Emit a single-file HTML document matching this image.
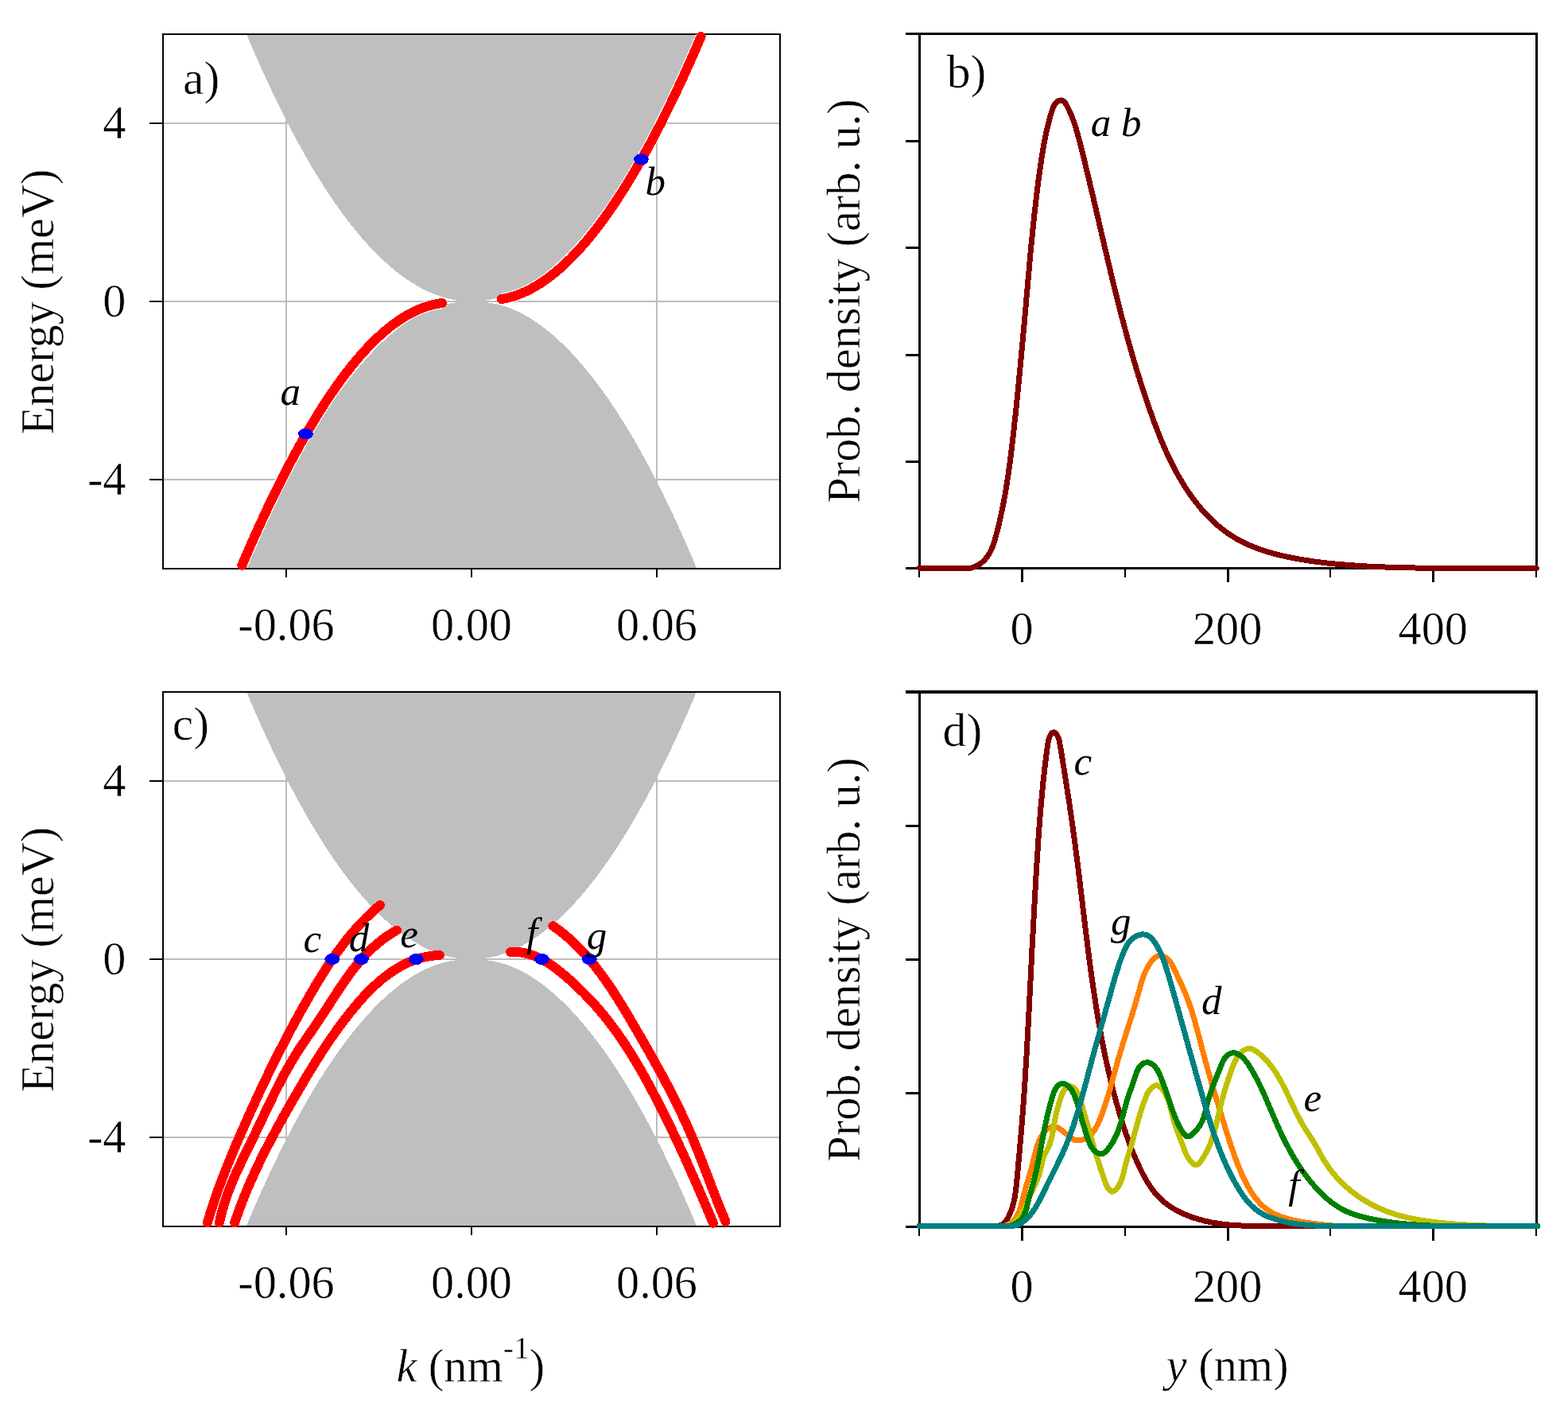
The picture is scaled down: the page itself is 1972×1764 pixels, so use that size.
<!DOCTYPE html>
<html lang="en"><head><meta charset="utf-8"><title>Edge-state dispersion and probability density</title>
<style>
html,body{margin:0;padding:0;background:#fff;}
svg{display:block;}
text{font-family:'Liberation Serif', 'DejaVu Serif', serif;fill:#000;}
.t{font-size:58.3px;}
.tag{font-size:59.6px;}
.it{font-size:51px;font-style:italic;}
.xl{font-size:58.3px;}
.t,.tag,.xl,.thin{stroke:#fff;stroke-width:0.5px;stroke-linejoin:round;}
</style></head>
<body>
<svg xmlns="http://www.w3.org/2000/svg" width="1972" height="1764" viewBox="0 0 1972 1764" shape-rendering="crispEdges">
<rect width="1972" height="1764" fill="#fff"/>
<clipPath id="cpa"><rect x="205" y="43" width="776" height="672"/></clipPath>
<g clip-path="url(#cpa)">
<rect x="205" y="602" width="776" height="2" fill="#bcbcbc"/>
<rect x="205" y="378" width="776" height="2" fill="#bcbcbc"/>
<rect x="205" y="154" width="776" height="2" fill="#bcbcbc"/>
<rect x="359" y="43" width="2" height="672" fill="#bcbcbc"/>
<rect x="825" y="43" width="2" height="672" fill="#bcbcbc"/>
<path d="M282.3,-26 L284.3,-20.9 L286.2,-15.9 L288.2,-10.9 L290.1,-6 L292,-1.1 L294,3.8 L295.9,8.7 L297.9,13.5 L299.8,18.3 L301.8,23.1 L303.7,27.8 L305.6,32.5 L307.6,37.1 L309.5,41.8 L311.5,46.4 L313.4,51 L315.3,55.5 L317.3,60 L319.2,64.5 L321.2,68.9 L323.1,73.3 L325.1,77.7 L327,82.1 L328.9,86.4 L330.9,90.7 L332.8,94.9 L334.8,99.2 L336.7,103.4 L338.6,107.5 L340.6,111.6 L342.5,115.7 L344.5,119.8 L346.4,123.8 L348.4,127.8 L350.3,131.8 L352.2,135.8 L354.2,139.7 L356.1,143.5 L358.1,147.4 L360,151.2 L361.9,155 L363.9,158.7 L365.8,162.4 L367.8,166.1 L369.7,169.8 L371.7,173.4 L373.6,177 L375.5,180.6 L377.5,184.1 L379.4,187.6 L381.4,191 L383.3,194.5 L385.2,197.9 L387.2,201.2 L389.1,204.6 L391.1,207.9 L393,211.2 L395,214.4 L396.9,217.6 L398.8,220.8 L400.8,223.9 L402.7,227.1 L404.7,230.1 L406.6,233.2 L408.5,236.2 L410.5,239.2 L412.4,242.2 L414.4,245.1 L416.3,248 L418.3,250.9 L420.2,253.7 L422.1,256.5 L424.1,259.3 L426,262 L428,264.7 L429.9,267.4 L431.8,270 L433.8,272.6 L435.7,275.2 L437.7,277.8 L439.6,280.3 L441.6,282.8 L443.5,285.2 L445.4,287.6 L447.4,290 L449.3,292.4 L451.3,294.7 L453.2,297 L455.1,299.3 L457.1,301.5 L459,303.7 L461,305.8 L462.9,308 L464.9,310.1 L466.8,312.2 L468.7,314.2 L470.7,316.2 L472.6,318.2 L474.6,320.1 L476.5,322 L478.4,323.9 L480.4,325.8 L482.3,327.6 L484.3,329.4 L486.2,331.1 L488.2,332.9 L490.1,334.6 L492,336.2 L494,337.9 L495.9,339.4 L497.9,341 L499.8,342.6 L501.7,344.1 L503.7,345.5 L505.6,347 L507.6,348.4 L509.5,349.7 L511.5,351.1 L513.4,352.4 L515.3,353.7 L517.3,354.9 L519.2,356.2 L521.2,357.3 L523.1,358.5 L525,359.6 L527,360.7 L528.9,361.8 L530.9,362.8 L532.8,363.8 L534.8,364.8 L536.7,365.7 L538.6,366.6 L540.6,367.5 L542.5,368.3 L544.5,369.1 L546.4,369.9 L548.3,370.6 L550.3,371.3 L552.2,372 L554.2,372.7 L556.1,373.3 L558.1,373.9 L560,374.4 L561.9,375 L563.9,375.4 L565.8,375.9 L567.8,376.3 L569.7,376.7 L571.6,377.1 L573.6,377.4 L575.5,377.7 L577.5,378 L579.4,378.2 L581.4,378.4 L583.3,378.6 L585.2,378.7 L587.2,378.9 L589.1,378.9 L591.1,379 L593,379 L594.9,379 L596.9,378.9 L598.8,378.9 L600.8,378.7 L602.7,378.6 L604.6,378.4 L606.6,378.2 L608.5,378 L610.5,377.7 L612.4,377.4 L614.4,377.1 L616.3,376.7 L618.2,376.3 L620.2,375.9 L622.1,375.4 L624.1,375 L626,374.4 L627.9,373.9 L629.9,373.3 L631.8,372.7 L633.8,372 L635.7,371.3 L637.7,370.6 L639.6,369.9 L641.5,369.1 L643.5,368.3 L645.4,367.5 L647.4,366.6 L649.3,365.7 L651.2,364.8 L653.2,363.8 L655.1,362.8 L657.1,361.8 L659,360.7 L661,359.6 L662.9,358.5 L664.8,357.3 L666.8,356.2 L668.7,354.9 L670.7,353.7 L672.6,352.4 L674.5,351.1 L676.5,349.7 L678.4,348.4 L680.4,347 L682.3,345.5 L684.3,344.1 L686.2,342.6 L688.1,341 L690.1,339.5 L692,337.9 L694,336.2 L695.9,334.6 L697.8,332.9 L699.8,331.1 L701.7,329.4 L703.7,327.6 L705.6,325.8 L707.6,323.9 L709.5,322 L711.4,320.1 L713.4,318.2 L715.3,316.2 L717.3,314.2 L719.2,312.2 L721.1,310.1 L723.1,308 L725,305.8 L727,303.7 L728.9,301.5 L730.9,299.3 L732.8,297 L734.7,294.7 L736.7,292.4 L738.6,290 L740.6,287.6 L742.5,285.2 L744.4,282.8 L746.4,280.3 L748.3,277.8 L750.3,275.2 L752.2,272.6 L754.2,270 L756.1,267.4 L758,264.7 L760,262 L761.9,259.3 L763.9,256.5 L765.8,253.7 L767.7,250.9 L769.7,248 L771.6,245.1 L773.6,242.2 L775.5,239.2 L777.5,236.2 L779.4,233.2 L781.3,230.1 L783.3,227.1 L785.2,223.9 L787.2,220.8 L789.1,217.6 L791,214.4 L793,211.2 L794.9,207.9 L796.9,204.6 L798.8,201.2 L800.8,197.9 L802.7,194.5 L804.6,191 L806.6,187.6 L808.5,184.1 L810.5,180.6 L812.4,177 L814.3,173.4 L816.3,169.8 L818.2,166.1 L820.2,162.4 L822.1,158.7 L824.1,155 L826,151.2 L827.9,147.4 L829.9,143.5 L831.8,139.7 L833.8,135.8 L835.7,131.8 L837.6,127.8 L839.6,123.8 L841.5,119.8 L843.5,115.7 L845.4,111.6 L847.4,107.5 L849.3,103.4 L851.2,99.2 L853.2,94.9 L855.1,90.7 L857.1,86.4 L859,82.1 L860.9,77.7 L862.9,73.3 L864.8,68.9 L866.8,64.5 L868.7,60 L870.7,55.5 L872.6,51 L874.5,46.4 L876.5,41.8 L878.4,37.1 L880.4,32.5 L882.3,27.8 L884.2,23.1 L886.2,18.3 L888.1,13.5 L890.1,8.7 L892,3.8 L894,-1.1 L895.9,-6 L897.8,-10.9 L899.8,-15.9 L901.7,-20.9 L903.7,-26 L903.7,-7 L282.3,-7 Z" fill="#bfbfbf"/>
<path d="M282.3,783 L284.3,778 L286.2,772.9 L288.2,768 L290.1,763 L292,758.1 L294,753.2 L295.9,748.3 L297.9,743.5 L299.8,738.7 L301.8,733.9 L303.7,729.2 L305.6,724.5 L307.6,719.8 L309.5,715.1 L311.5,710.5 L313.4,705.9 L315.3,701.4 L317.3,696.9 L319.2,692.4 L321.2,687.9 L323.1,683.5 L325.1,679.1 L327,674.8 L328.9,670.4 L330.9,666.1 L332.8,661.9 L334.8,657.7 L336.7,653.5 L338.6,649.3 L340.6,645.2 L342.5,641 L344.5,637 L346.4,632.9 L348.4,628.9 L350.3,624.9 L352.2,621 L354.2,617.1 L356.1,613.2 L358.1,609.4 L360,605.5 L361.9,601.7 L363.9,598 L365.8,594.3 L367.8,590.6 L369.7,586.9 L371.7,583.3 L373.6,579.7 L375.5,576.1 L377.5,572.6 L379.4,569.1 L381.4,565.6 L383.3,562.2 L385.2,558.8 L387.2,555.4 L389.1,552 L391.1,548.7 L393,545.5 L395,542.2 L396.9,539 L398.8,535.8 L400.8,532.6 L402.7,529.5 L404.7,526.4 L406.6,523.4 L408.5,520.3 L410.5,517.4 L412.4,514.4 L414.4,511.5 L416.3,508.6 L418.3,505.7 L420.2,502.9 L422.1,500 L424.1,497.3 L426,494.5 L428,491.8 L429.9,489.1 L431.8,486.5 L433.8,483.9 L435.7,481.3 L437.7,478.7 L439.6,476.2 L441.6,473.7 L443.5,471.3 L445.4,468.9 L447.4,466.5 L449.3,464.1 L451.3,461.8 L453.2,459.5 L455.1,457.2 L457.1,455 L459,452.8 L461,450.6 L462.9,448.5 L464.9,446.4 L466.8,444.3 L468.7,442.2 L470.7,440.2 L472.6,438.2 L474.6,436.3 L476.5,434.4 L478.4,432.5 L480.4,430.6 L482.3,428.8 L484.3,427 L486.2,425.3 L488.2,423.5 L490.1,421.8 L492,420.2 L494,418.5 L495.9,416.9 L497.9,415.4 L499.8,413.8 L501.7,412.3 L503.7,410.9 L505.6,409.4 L507.6,408 L509.5,406.6 L511.5,405.3 L513.4,404 L515.3,402.7 L517.3,401.5 L519.2,400.2 L521.2,399.1 L523.1,397.9 L525,396.8 L527,395.7 L528.9,394.7 L530.9,393.7 L532.8,392.7 L534.8,391.8 L536.7,390.9 L538.6,390 L540.6,389.1 L542.5,388.3 L544.5,387.6 L546.4,386.8 L548.3,386.2 L550.3,385.5 L552.2,384.9 L554.2,384.3 L556.1,383.7 L558.1,383.2 L560,382.7 L561.9,382.3 L563.9,381.8 L565.8,381.5 L567.8,381.1 L569.7,380.8 L571.6,380.5 L573.6,380.2 L575.5,380 L577.5,379.8 L579.4,379.6 L581.4,379.4 L583.3,379.3 L585.2,379.2 L587.2,379.1 L589.1,379 L591.1,379 L593,379 L594.9,379 L596.9,379 L598.8,379.1 L600.8,379.2 L602.7,379.3 L604.6,379.4 L606.6,379.6 L608.5,379.8 L610.5,380 L612.4,380.2 L614.4,380.5 L616.3,380.8 L618.2,381.1 L620.2,381.5 L622.1,381.8 L624.1,382.3 L626,382.7 L627.9,383.2 L629.9,383.7 L631.8,384.3 L633.8,384.9 L635.7,385.5 L637.7,386.2 L639.6,386.8 L641.5,387.6 L643.5,388.3 L645.4,389.1 L647.4,390 L649.3,390.9 L651.2,391.8 L653.2,392.7 L655.1,393.7 L657.1,394.7 L659,395.7 L661,396.8 L662.9,397.9 L664.8,399.1 L666.8,400.2 L668.7,401.5 L670.7,402.7 L672.6,404 L674.5,405.3 L676.5,406.6 L678.4,408 L680.4,409.4 L682.3,410.9 L684.3,412.3 L686.2,413.8 L688.1,415.4 L690.1,416.9 L692,418.5 L694,420.2 L695.9,421.8 L697.8,423.5 L699.8,425.3 L701.7,427 L703.7,428.8 L705.6,430.6 L707.6,432.5 L709.5,434.4 L711.4,436.3 L713.4,438.2 L715.3,440.2 L717.3,442.2 L719.2,444.3 L721.1,446.4 L723.1,448.5 L725,450.6 L727,452.8 L728.9,455 L730.9,457.2 L732.8,459.5 L734.7,461.8 L736.7,464.1 L738.6,466.5 L740.6,468.9 L742.5,471.3 L744.4,473.7 L746.4,476.2 L748.3,478.7 L750.3,481.3 L752.2,483.9 L754.2,486.5 L756.1,489.1 L758,491.8 L760,494.5 L761.9,497.3 L763.9,500 L765.8,502.9 L767.7,505.7 L769.7,508.6 L771.6,511.5 L773.6,514.4 L775.5,517.4 L777.5,520.3 L779.4,523.4 L781.3,526.4 L783.3,529.5 L785.2,532.6 L787.2,535.8 L789.1,539 L791,542.2 L793,545.5 L794.9,548.7 L796.9,552 L798.8,555.4 L800.8,558.8 L802.7,562.2 L804.6,565.6 L806.6,569.1 L808.5,572.6 L810.5,576.1 L812.4,579.7 L814.3,583.3 L816.3,586.9 L818.2,590.6 L820.2,594.3 L822.1,598 L824.1,601.7 L826,605.5 L827.9,609.4 L829.9,613.2 L831.8,617.1 L833.8,621 L835.7,624.9 L837.6,628.9 L839.6,632.9 L841.5,637 L843.5,641 L845.4,645.2 L847.4,649.3 L849.3,653.5 L851.2,657.7 L853.2,661.9 L855.1,666.1 L857.1,670.4 L859,674.8 L860.9,679.1 L862.9,683.5 L864.8,687.9 L866.8,692.4 L868.7,696.9 L870.7,701.4 L872.6,705.9 L874.5,710.5 L876.5,715.1 L878.4,719.8 L880.4,724.5 L882.3,729.2 L884.2,733.9 L886.2,738.7 L888.1,743.5 L890.1,748.3 L892,753.2 L894,758.1 L895.9,763 L897.8,768 L899.8,772.9 L901.7,778 L903.7,783 L903.7,765 L282.3,765 Z" fill="#bfbfbf"/>
</g>
<rect x="205" y="43" width="776" height="672" fill="none" stroke="#000" stroke-width="2"/>
<rect x="188" y="154" width="17" height="2" fill="#000"/>
<text x="158.5" y="173.8" text-anchor="end" class="t">4</text>
<rect x="188" y="378" width="17" height="2" fill="#000"/>
<text x="158.5" y="397.8" text-anchor="end" class="t">0</text>
<rect x="188" y="602" width="17" height="2" fill="#000"/>
<text x="158.5" y="621.8" text-anchor="end" class="t">-4</text>
<rect x="359" y="715" width="2" height="10.5" fill="#000"/>
<text x="360" y="804.6" text-anchor="middle" class="t">-0.06</text>
<rect x="592" y="715" width="2" height="10.5" fill="#000"/>
<text x="593" y="804.6" text-anchor="middle" class="t">0.00</text>
<rect x="825" y="715" width="2" height="10.5" fill="#000"/>
<text x="826" y="804.6" text-anchor="middle" class="t">0.06</text>
<g clip-path="url(#cpa)">
<path d="M304.3,710.8 L307.5,703.4 L310.7,696 L313.9,688.7 L317,681.5 L320.2,674.4 L323.4,667.3 L326.6,660.3 L329.8,653.4 L333,646.6 L336.1,639.8 L339.3,633.1 L342.5,626.5 L345.7,619.9 L348.9,613.5 L352.1,607.1 L355.3,600.8 L358.4,594.5 L361.6,588.4 L364.8,582.3 L368,576.3 L371.2,570.4 L374.4,564.5 L377.6,558.8 L380.7,553.1 L383.9,547.5 L387.1,542 L390.3,536.6 L393.5,531.2 L396.7,526 L399.8,520.8 L403,515.7 L406.2,510.7 L409.4,505.8 L412.6,501 L415.8,496.2 L419,491.6 L422.1,487 L425.3,482.5 L428.5,478.1 L431.7,473.8 L434.9,469.6 L438.1,465.5 L441.2,461.4 L444.4,457.5 L447.6,453.6 L450.8,449.9 L454,446.2 L457.2,442.7 L460.4,439.2 L463.5,435.8 L466.7,432.5 L469.9,429.3 L473.1,426.2 L476.3,423.2 L479.5,420.3 L482.6,417.5 L485.8,414.8 L489,412.2 L492.2,409.7 L495.4,407.3 L498.6,405 L501.8,402.8 L504.9,400.7 L508.1,398.7 L511.3,396.8 L514.5,395 L517.7,393.3 L520.9,391.7 L524.1,390.2 L527.2,388.8 L530.4,387.5 L533.6,386.3 L536.8,385.2 L540,384.3 L543.2,383.4 L546.3,382.7 L549.5,382 L552.7,381.5 L555.9,381.1" fill="none" stroke="#fff" stroke-width="14.4" stroke-linecap="butt" stroke-linejoin="round"/>
<path d="M630.6,376 L633.8,375.5 L637,374.8 L640.1,374.1 L643.3,373.2 L646.5,372.3 L649.7,371.2 L652.8,370 L656,368.8 L659.2,367.4 L662.4,365.9 L665.5,364.4 L668.7,362.7 L671.9,360.9 L675.1,359.1 L678.3,357.1 L681.4,355.1 L684.6,352.9 L687.8,350.6 L691,348.3 L694.1,345.9 L697.3,343.3 L700.5,340.7 L703.7,337.9 L706.9,335.1 L710,332.2 L713.2,329.2 L716.4,326.1 L719.6,322.9 L722.7,319.6 L725.9,316.2 L729.1,312.7 L732.3,309.2 L735.4,305.5 L738.6,301.8 L741.8,297.9 L745,294 L748.2,290 L751.3,285.9 L754.5,281.7 L757.7,277.4 L760.9,273 L764,268.6 L767.2,264 L770.4,259.4 L773.6,254.7 L776.8,249.9 L779.9,245 L783.1,240 L786.3,235 L789.5,229.8 L792.6,224.6 L795.8,219.3 L799,213.9 L802.2,208.4 L805.3,202.9 L808.5,197.2 L811.7,191.5 L814.9,185.7 L818.1,179.9 L821.2,173.9 L824.4,167.9 L827.6,161.7 L830.8,155.6 L833.9,149.3 L837.1,142.9 L840.3,136.5 L843.5,130 L846.7,123.4 L849.8,116.7 L853,110 L856.2,103.2 L859.4,96.3 L862.5,89.4 L865.7,82.3 L868.9,75.2 L872.1,68 L875.2,60.8 L878.4,53.4 L881.6,46" fill="none" stroke="#fff" stroke-width="14.4" stroke-linecap="butt" stroke-linejoin="round"/>
</g>
<path d="M304.3,710.8 L307.5,703.4 L310.7,696 L313.9,688.7 L317,681.5 L320.2,674.4 L323.4,667.3 L326.6,660.3 L329.8,653.4 L333,646.6 L336.1,639.8 L339.3,633.1 L342.5,626.5 L345.7,619.9 L348.9,613.5 L352.1,607.1 L355.3,600.8 L358.4,594.5 L361.6,588.4 L364.8,582.3 L368,576.3 L371.2,570.4 L374.4,564.5 L377.6,558.8 L380.7,553.1 L383.9,547.5 L387.1,542 L390.3,536.6 L393.5,531.2 L396.7,526 L399.8,520.8 L403,515.7 L406.2,510.7 L409.4,505.8 L412.6,501 L415.8,496.2 L419,491.6 L422.1,487 L425.3,482.5 L428.5,478.1 L431.7,473.8 L434.9,469.6 L438.1,465.5 L441.2,461.4 L444.4,457.5 L447.6,453.6 L450.8,449.9 L454,446.2 L457.2,442.7 L460.4,439.2 L463.5,435.8 L466.7,432.5 L469.9,429.3 L473.1,426.2 L476.3,423.2 L479.5,420.3 L482.6,417.5 L485.8,414.8 L489,412.2 L492.2,409.7 L495.4,407.3 L498.6,405 L501.8,402.8 L504.9,400.7 L508.1,398.7 L511.3,396.8 L514.5,395 L517.7,393.3 L520.9,391.7 L524.1,390.2 L527.2,388.8 L530.4,387.5 L533.6,386.3 L536.8,385.2 L540,384.3 L543.2,383.4 L546.3,382.7 L549.5,382 L552.7,381.5 L555.9,381.1" fill="none" stroke="#ff0000" stroke-width="12" stroke-linecap="round" stroke-linejoin="round"/>
<path d="M630.6,376 L633.8,375.5 L637,374.8 L640.1,374.1 L643.3,373.2 L646.5,372.3 L649.7,371.2 L652.8,370 L656,368.8 L659.2,367.4 L662.4,365.9 L665.5,364.4 L668.7,362.7 L671.9,360.9 L675.1,359.1 L678.3,357.1 L681.4,355.1 L684.6,352.9 L687.8,350.6 L691,348.3 L694.1,345.9 L697.3,343.3 L700.5,340.7 L703.7,337.9 L706.9,335.1 L710,332.2 L713.2,329.2 L716.4,326.1 L719.6,322.9 L722.7,319.6 L725.9,316.2 L729.1,312.7 L732.3,309.2 L735.4,305.5 L738.6,301.8 L741.8,297.9 L745,294 L748.2,290 L751.3,285.9 L754.5,281.7 L757.7,277.4 L760.9,273 L764,268.6 L767.2,264 L770.4,259.4 L773.6,254.7 L776.8,249.9 L779.9,245 L783.1,240 L786.3,235 L789.5,229.8 L792.6,224.6 L795.8,219.3 L799,213.9 L802.2,208.4 L805.3,202.9 L808.5,197.2 L811.7,191.5 L814.9,185.7 L818.1,179.9 L821.2,173.9 L824.4,167.9 L827.6,161.7 L830.8,155.6 L833.9,149.3 L837.1,142.9 L840.3,136.5 L843.5,130 L846.7,123.4 L849.8,116.7 L853,110 L856.2,103.2 L859.4,96.3 L862.5,89.4 L865.7,82.3 L868.9,75.2 L872.1,68 L875.2,60.8 L878.4,53.4 L881.6,46" fill="none" stroke="#ff0000" stroke-width="12" stroke-linecap="round" stroke-linejoin="round"/>
<ellipse cx="384.4" cy="545.5" rx="9.4" ry="7" fill="#0000ff"/>
<ellipse cx="806.4" cy="200.3" rx="9.4" ry="7" fill="#0000ff"/>
<text transform="translate(67,379.5) rotate(-90)" text-anchor="middle" class="t">Energy (meV)</text>
<text x="230" y="117.5" class="tag">a)</text>
<text x="352.4" y="509.2" class="it">a</text>
<text x="811.6" y="244.7" class="it">b</text>
<clipPath id="cpc"><rect x="205" y="870" width="776" height="672"/></clipPath>
<g clip-path="url(#cpc)">
<rect x="205" y="1429" width="776" height="2" fill="#bcbcbc"/>
<rect x="205" y="1205" width="776" height="2" fill="#bcbcbc"/>
<rect x="205" y="981" width="776" height="2" fill="#bcbcbc"/>
<rect x="359" y="870" width="2" height="672" fill="#bcbcbc"/>
<rect x="825" y="870" width="2" height="672" fill="#bcbcbc"/>
<path d="M282.3,801 L284.3,806.1 L286.2,811.1 L288.2,816.1 L290.1,821 L292,825.9 L294,830.8 L295.9,835.7 L297.9,840.5 L299.8,845.3 L301.8,850 L303.7,854.8 L305.6,859.5 L307.6,864.1 L309.5,868.8 L311.5,873.4 L313.4,878 L315.3,882.5 L317.3,887 L319.2,891.5 L321.2,895.9 L323.1,900.3 L325.1,904.7 L327,909.1 L328.9,913.4 L330.9,917.7 L332.8,921.9 L334.8,926.2 L336.7,930.4 L338.6,934.5 L340.6,938.6 L342.5,942.7 L344.5,946.8 L346.4,950.8 L348.4,954.8 L350.3,958.8 L352.2,962.8 L354.2,966.7 L356.1,970.5 L358.1,974.4 L360,978.2 L361.9,982 L363.9,985.7 L365.8,989.4 L367.8,993.1 L369.7,996.8 L371.7,1000.4 L373.6,1004 L375.5,1007.6 L377.5,1011.1 L379.4,1014.6 L381.4,1018 L383.3,1021.5 L385.2,1024.9 L387.2,1028.2 L389.1,1031.6 L391.1,1034.9 L393,1038.2 L395,1041.4 L396.9,1044.6 L398.8,1047.8 L400.8,1050.9 L402.7,1054.1 L404.7,1057.1 L406.6,1060.2 L408.5,1063.2 L410.5,1066.2 L412.4,1069.2 L414.4,1072.1 L416.3,1075 L418.3,1077.9 L420.2,1080.7 L422.1,1083.5 L424.1,1086.3 L426,1089 L428,1091.7 L429.9,1094.4 L431.8,1097 L433.8,1099.6 L435.7,1102.2 L437.7,1104.8 L439.6,1107.3 L441.6,1109.8 L443.5,1112.2 L445.4,1114.6 L447.4,1117 L449.3,1119.4 L451.3,1121.7 L453.2,1124 L455.1,1126.3 L457.1,1128.5 L459,1130.7 L461,1132.8 L462.9,1135 L464.9,1137.1 L466.8,1139.2 L468.7,1141.2 L470.7,1143.2 L472.6,1145.2 L474.6,1147.1 L476.5,1149 L478.4,1150.9 L480.4,1152.8 L482.3,1154.6 L484.3,1156.4 L486.2,1158.1 L488.2,1159.9 L490.1,1161.6 L492,1163.2 L494,1164.9 L495.9,1166.5 L497.9,1168 L499.8,1169.6 L501.7,1171.1 L503.7,1172.5 L505.6,1174 L507.6,1175.4 L509.5,1176.7 L511.5,1178.1 L513.4,1179.4 L515.3,1180.7 L517.3,1181.9 L519.2,1183.2 L521.2,1184.3 L523.1,1185.5 L525,1186.6 L527,1187.7 L528.9,1188.8 L530.9,1189.8 L532.8,1190.8 L534.8,1191.8 L536.7,1192.7 L538.6,1193.6 L540.6,1194.5 L542.5,1195.3 L544.5,1196.1 L546.4,1196.9 L548.3,1197.6 L550.3,1198.3 L552.2,1199 L554.2,1199.7 L556.1,1200.3 L558.1,1200.9 L560,1201.4 L561.9,1202 L563.9,1202.4 L565.8,1202.9 L567.8,1203.3 L569.7,1203.7 L571.6,1204.1 L573.6,1204.4 L575.5,1204.7 L577.5,1205 L579.4,1205.2 L581.4,1205.4 L583.3,1205.6 L585.2,1205.7 L587.2,1205.9 L589.1,1205.9 L591.1,1206 L593,1206 L594.9,1206 L596.9,1205.9 L598.8,1205.9 L600.8,1205.7 L602.7,1205.6 L604.6,1205.4 L606.6,1205.2 L608.5,1205 L610.5,1204.7 L612.4,1204.4 L614.4,1204.1 L616.3,1203.7 L618.2,1203.3 L620.2,1202.9 L622.1,1202.4 L624.1,1202 L626,1201.4 L627.9,1200.9 L629.9,1200.3 L631.8,1199.7 L633.8,1199 L635.7,1198.3 L637.7,1197.6 L639.6,1196.9 L641.5,1196.1 L643.5,1195.3 L645.4,1194.5 L647.4,1193.6 L649.3,1192.7 L651.2,1191.8 L653.2,1190.8 L655.1,1189.8 L657.1,1188.8 L659,1187.7 L661,1186.6 L662.9,1185.5 L664.8,1184.3 L666.8,1183.2 L668.7,1181.9 L670.7,1180.7 L672.6,1179.4 L674.5,1178.1 L676.5,1176.7 L678.4,1175.4 L680.4,1174 L682.3,1172.5 L684.3,1171.1 L686.2,1169.6 L688.1,1168 L690.1,1166.5 L692,1164.9 L694,1163.2 L695.9,1161.6 L697.8,1159.9 L699.8,1158.1 L701.7,1156.4 L703.7,1154.6 L705.6,1152.8 L707.6,1150.9 L709.5,1149 L711.4,1147.1 L713.4,1145.2 L715.3,1143.2 L717.3,1141.2 L719.2,1139.2 L721.1,1137.1 L723.1,1135 L725,1132.8 L727,1130.7 L728.9,1128.5 L730.9,1126.3 L732.8,1124 L734.7,1121.7 L736.7,1119.4 L738.6,1117 L740.6,1114.6 L742.5,1112.2 L744.4,1109.8 L746.4,1107.3 L748.3,1104.8 L750.3,1102.2 L752.2,1099.6 L754.2,1097 L756.1,1094.4 L758,1091.7 L760,1089 L761.9,1086.3 L763.9,1083.5 L765.8,1080.7 L767.7,1077.9 L769.7,1075 L771.6,1072.1 L773.6,1069.2 L775.5,1066.2 L777.5,1063.2 L779.4,1060.2 L781.3,1057.1 L783.3,1054.1 L785.2,1050.9 L787.2,1047.8 L789.1,1044.6 L791,1041.4 L793,1038.2 L794.9,1034.9 L796.9,1031.6 L798.8,1028.2 L800.8,1024.9 L802.7,1021.5 L804.6,1018 L806.6,1014.6 L808.5,1011.1 L810.5,1007.6 L812.4,1004 L814.3,1000.4 L816.3,996.8 L818.2,993.1 L820.2,989.4 L822.1,985.7 L824.1,982 L826,978.2 L827.9,974.4 L829.9,970.5 L831.8,966.7 L833.8,962.8 L835.7,958.8 L837.6,954.8 L839.6,950.8 L841.5,946.8 L843.5,942.7 L845.4,938.6 L847.4,934.5 L849.3,930.4 L851.2,926.2 L853.2,921.9 L855.1,917.7 L857.1,913.4 L859,909.1 L860.9,904.7 L862.9,900.3 L864.8,895.9 L866.8,891.5 L868.7,887 L870.7,882.5 L872.6,878 L874.5,873.4 L876.5,868.8 L878.4,864.1 L880.4,859.5 L882.3,854.8 L884.2,850 L886.2,845.3 L888.1,840.5 L890.1,835.7 L892,830.8 L894,825.9 L895.9,821 L897.8,816.1 L899.8,811.1 L901.7,806.1 L903.7,801 L903.7,820 L282.3,820 Z" fill="#bfbfbf"/>
<path d="M282.3,1610 L284.3,1605 L286.2,1599.9 L288.2,1595 L290.1,1590 L292,1585.1 L294,1580.2 L295.9,1575.3 L297.9,1570.5 L299.8,1565.7 L301.8,1560.9 L303.7,1556.2 L305.6,1551.5 L307.6,1546.8 L309.5,1542.1 L311.5,1537.5 L313.4,1532.9 L315.3,1528.4 L317.3,1523.9 L319.2,1519.4 L321.2,1514.9 L323.1,1510.5 L325.1,1506.1 L327,1501.8 L328.9,1497.4 L330.9,1493.1 L332.8,1488.9 L334.8,1484.7 L336.7,1480.5 L338.6,1476.3 L340.6,1472.2 L342.5,1468 L344.5,1464 L346.4,1459.9 L348.4,1455.9 L350.3,1451.9 L352.2,1448 L354.2,1444.1 L356.1,1440.2 L358.1,1436.4 L360,1432.5 L361.9,1428.7 L363.9,1425 L365.8,1421.3 L367.8,1417.6 L369.7,1413.9 L371.7,1410.3 L373.6,1406.7 L375.5,1403.1 L377.5,1399.6 L379.4,1396.1 L381.4,1392.6 L383.3,1389.2 L385.2,1385.8 L387.2,1382.4 L389.1,1379 L391.1,1375.7 L393,1372.5 L395,1369.2 L396.9,1366 L398.8,1362.8 L400.8,1359.6 L402.7,1356.5 L404.7,1353.4 L406.6,1350.4 L408.5,1347.3 L410.5,1344.4 L412.4,1341.4 L414.4,1338.5 L416.3,1335.6 L418.3,1332.7 L420.2,1329.9 L422.1,1327 L424.1,1324.3 L426,1321.5 L428,1318.8 L429.9,1316.1 L431.8,1313.5 L433.8,1310.9 L435.7,1308.3 L437.7,1305.7 L439.6,1303.2 L441.6,1300.7 L443.5,1298.3 L445.4,1295.9 L447.4,1293.5 L449.3,1291.1 L451.3,1288.8 L453.2,1286.5 L455.1,1284.2 L457.1,1282 L459,1279.8 L461,1277.6 L462.9,1275.5 L464.9,1273.4 L466.8,1271.3 L468.7,1269.2 L470.7,1267.2 L472.6,1265.2 L474.6,1263.3 L476.5,1261.4 L478.4,1259.5 L480.4,1257.6 L482.3,1255.8 L484.3,1254 L486.2,1252.3 L488.2,1250.5 L490.1,1248.8 L492,1247.2 L494,1245.5 L495.9,1243.9 L497.9,1242.4 L499.8,1240.8 L501.7,1239.3 L503.7,1237.9 L505.6,1236.4 L507.6,1235 L509.5,1233.6 L511.5,1232.3 L513.4,1231 L515.3,1229.7 L517.3,1228.5 L519.2,1227.2 L521.2,1226.1 L523.1,1224.9 L525,1223.8 L527,1222.7 L528.9,1221.7 L530.9,1220.7 L532.8,1219.7 L534.8,1218.8 L536.7,1217.9 L538.6,1217 L540.6,1216.1 L542.5,1215.3 L544.5,1214.6 L546.4,1213.8 L548.3,1213.2 L550.3,1212.5 L552.2,1211.9 L554.2,1211.3 L556.1,1210.7 L558.1,1210.2 L560,1209.7 L561.9,1209.3 L563.9,1208.8 L565.8,1208.5 L567.8,1208.1 L569.7,1207.8 L571.6,1207.5 L573.6,1207.2 L575.5,1207 L577.5,1206.8 L579.4,1206.6 L581.4,1206.4 L583.3,1206.3 L585.2,1206.2 L587.2,1206.1 L589.1,1206 L591.1,1206 L593,1206 L594.9,1206 L596.9,1206 L598.8,1206.1 L600.8,1206.2 L602.7,1206.3 L604.6,1206.4 L606.6,1206.6 L608.5,1206.8 L610.5,1207 L612.4,1207.2 L614.4,1207.5 L616.3,1207.8 L618.2,1208.1 L620.2,1208.5 L622.1,1208.8 L624.1,1209.3 L626,1209.7 L627.9,1210.2 L629.9,1210.7 L631.8,1211.3 L633.8,1211.9 L635.7,1212.5 L637.7,1213.2 L639.6,1213.8 L641.5,1214.6 L643.5,1215.3 L645.4,1216.1 L647.4,1217 L649.3,1217.9 L651.2,1218.8 L653.2,1219.7 L655.1,1220.7 L657.1,1221.7 L659,1222.7 L661,1223.8 L662.9,1224.9 L664.8,1226.1 L666.8,1227.2 L668.7,1228.5 L670.7,1229.7 L672.6,1231 L674.5,1232.3 L676.5,1233.6 L678.4,1235 L680.4,1236.4 L682.3,1237.9 L684.3,1239.3 L686.2,1240.8 L688.1,1242.4 L690.1,1243.9 L692,1245.5 L694,1247.2 L695.9,1248.8 L697.8,1250.5 L699.8,1252.3 L701.7,1254 L703.7,1255.8 L705.6,1257.6 L707.6,1259.5 L709.5,1261.4 L711.4,1263.3 L713.4,1265.2 L715.3,1267.2 L717.3,1269.2 L719.2,1271.3 L721.1,1273.4 L723.1,1275.5 L725,1277.6 L727,1279.8 L728.9,1282 L730.9,1284.2 L732.8,1286.5 L734.7,1288.8 L736.7,1291.1 L738.6,1293.5 L740.6,1295.9 L742.5,1298.3 L744.4,1300.7 L746.4,1303.2 L748.3,1305.7 L750.3,1308.3 L752.2,1310.9 L754.2,1313.5 L756.1,1316.1 L758,1318.8 L760,1321.5 L761.9,1324.3 L763.9,1327 L765.8,1329.9 L767.7,1332.7 L769.7,1335.6 L771.6,1338.5 L773.6,1341.4 L775.5,1344.4 L777.5,1347.3 L779.4,1350.4 L781.3,1353.4 L783.3,1356.5 L785.2,1359.6 L787.2,1362.8 L789.1,1366 L791,1369.2 L793,1372.5 L794.9,1375.7 L796.9,1379 L798.8,1382.4 L800.8,1385.8 L802.7,1389.2 L804.6,1392.6 L806.6,1396.1 L808.5,1399.6 L810.5,1403.1 L812.4,1406.7 L814.3,1410.3 L816.3,1413.9 L818.2,1417.6 L820.2,1421.3 L822.1,1425 L824.1,1428.7 L826,1432.5 L827.9,1436.4 L829.9,1440.2 L831.8,1444.1 L833.8,1448 L835.7,1451.9 L837.6,1455.9 L839.6,1459.9 L841.5,1464 L843.5,1468 L845.4,1472.2 L847.4,1476.3 L849.3,1480.5 L851.2,1484.7 L853.2,1488.9 L855.1,1493.1 L857.1,1497.4 L859,1501.8 L860.9,1506.1 L862.9,1510.5 L864.8,1514.9 L866.8,1519.4 L868.7,1523.9 L870.7,1528.4 L872.6,1532.9 L874.5,1537.5 L876.5,1542.1 L878.4,1546.8 L880.4,1551.5 L882.3,1556.2 L884.2,1560.9 L886.2,1565.7 L888.1,1570.5 L890.1,1575.3 L892,1580.2 L894,1585.1 L895.9,1590 L897.8,1595 L899.8,1599.9 L901.7,1605 L903.7,1610 L903.7,1592 L282.3,1592 Z" fill="#bfbfbf"/>
</g>
<rect x="205" y="870" width="776" height="672" fill="none" stroke="#000" stroke-width="2"/>
<rect x="188" y="981" width="17" height="2" fill="#000"/>
<text x="158.5" y="1000.8" text-anchor="end" class="t">4</text>
<rect x="188" y="1205" width="17" height="2" fill="#000"/>
<text x="158.5" y="1224.8" text-anchor="end" class="t">0</text>
<rect x="188" y="1429" width="17" height="2" fill="#000"/>
<text x="158.5" y="1448.8" text-anchor="end" class="t">-4</text>
<rect x="359" y="1542" width="2" height="10.5" fill="#000"/>
<text x="360" y="1632.2" text-anchor="middle" class="t">-0.06</text>
<rect x="592" y="1542" width="2" height="10.5" fill="#000"/>
<text x="593" y="1632.2" text-anchor="middle" class="t">0.00</text>
<rect x="825" y="1542" width="2" height="10.5" fill="#000"/>
<text x="826" y="1632.2" text-anchor="middle" class="t">0.06</text>
<path d="M477.9,1138.1 L473.4,1141.9 L469,1145.8 L464.8,1149.8 L460.6,1153.9 L456.5,1158 L452.5,1162.2 L448.6,1166.5 L444.8,1170.9 L441,1175.3 L437.4,1179.7 L433.8,1184.3 L430.3,1188.8 L426.8,1193.5 L423.4,1198.2 L420.1,1202.9 L416.8,1207.6 L413.6,1212.4 L410.4,1217.3 L407.3,1222.2 L404.2,1227.1 L401.2,1232 L398.2,1237 L395.2,1242 L392.3,1247 L389.4,1252 L386.5,1257 L383.6,1262.1 L380.7,1267.1 L377.9,1272.2 L375.1,1277.3 L372.3,1282.4 L369.5,1287.5 L366.8,1292.6 L364,1297.7 L361.3,1302.9 L358.6,1308 L356,1313.2 L353.3,1318.3 L350.7,1323.5 L348,1328.7 L345.4,1333.9 L342.9,1339.1 L340.3,1344.3 L337.7,1349.5 L335.2,1354.8 L332.7,1360 L330.2,1365.3 L327.7,1370.5 L325.2,1375.8 L322.8,1381.1 L320.4,1386.3 L317.9,1391.6 L315.5,1396.9 L313.2,1402.2 L310.8,1407.5 L308.4,1412.8 L306.1,1418.1 L303.7,1423.4 L301.4,1428.8 L299.1,1434.1 L296.8,1439.4 L294.6,1444.7 L292.3,1450.1 L290.1,1455.4 L287.9,1460.8 L285.7,1466.2 L283.6,1471.5 L281.5,1476.9 L279.4,1482.3 L277.4,1487.8 L275.3,1493.2 L273.4,1498.6 L271.5,1504.1 L269.6,1509.6 L267.8,1515.1 L266,1520.6 L264.2,1526.1 L262.6,1531.7 L260.9,1537.3" fill="none" stroke="#ff0000" stroke-width="12" stroke-linecap="round" stroke-linejoin="round"/>
<path d="M499.1,1169.6 L494.2,1172.4 L489.5,1175.4 L484.8,1178.5 L480.4,1181.8 L476.1,1185.2 L471.9,1188.8 L467.8,1192.5 L463.9,1196.3 L460,1200.3 L456.3,1204.3 L452.7,1208.4 L449.2,1212.6 L445.7,1216.9 L442.4,1221.3 L439.1,1225.7 L435.9,1230.2 L432.7,1234.7 L429.6,1239.2 L426.5,1243.8 L423.4,1248.5 L420.4,1253.1 L417.4,1257.8 L414.4,1262.4 L411.4,1267.1 L408.4,1271.8 L405.3,1276.4 L402.3,1281 L399.2,1285.6 L396.1,1290.2 L393,1294.7 L389.8,1299.2 L386.7,1303.8 L383.6,1308.3 L380.5,1312.8 L377.4,1317.4 L374.4,1322 L371.5,1326.7 L368.6,1331.4 L365.8,1336.1 L363.1,1340.9 L360.4,1345.6 L357.7,1350.5 L355.1,1355.3 L352.5,1360.2 L350,1365.1 L347.5,1370 L345,1375 L342.6,1379.9 L340.2,1384.9 L337.8,1389.9 L335.4,1394.9 L333,1399.9 L330.6,1404.9 L328.2,1409.9 L325.9,1414.9 L323.5,1419.9 L321.1,1424.9 L318.7,1429.8 L316.3,1434.8 L313.8,1439.8 L311.4,1444.7 L309,1449.7 L306.6,1454.7 L304.1,1459.6 L301.8,1464.6 L299.4,1469.6 L297.1,1474.6 L294.9,1479.6 L292.7,1484.7 L290.6,1489.8 L288.6,1494.9 L286.6,1500 L284.8,1505.2 L283,1510.4 L281.4,1515.7 L279.8,1521 L278.4,1526.4 L277.1,1531.8 L276,1537.3" fill="none" stroke="#ff0000" stroke-width="12" stroke-linecap="round" stroke-linejoin="round"/>
<path d="M552.8,1200.9 L547.1,1201.3 L541.5,1201.9 L536,1202.9 L530.6,1204.1 L525.3,1205.7 L520.1,1207.4 L515,1209.5 L510.1,1211.7 L505.2,1214.2 L500.5,1216.9 L495.8,1219.8 L491.2,1222.9 L486.7,1226.1 L482.3,1229.5 L478,1233.1 L473.8,1236.8 L469.7,1240.6 L465.6,1244.6 L461.6,1248.6 L457.7,1252.7 L453.9,1257 L450.2,1261.2 L446.5,1265.6 L442.9,1269.9 L439.3,1274.3 L435.8,1278.8 L432.4,1283.2 L429,1287.7 L425.7,1292.2 L422.4,1296.7 L419.2,1301.3 L416,1305.8 L412.9,1310.4 L409.8,1315 L406.7,1319.6 L403.7,1324.3 L400.8,1329 L397.8,1333.6 L394.9,1338.3 L392,1343.1 L389.1,1347.8 L386.3,1352.5 L383.4,1357.3 L380.6,1362.1 L377.8,1366.9 L375,1371.6 L372.2,1376.5 L369.4,1381.3 L366.6,1386.1 L363.9,1390.9 L361.1,1395.8 L358.3,1400.7 L355.6,1405.5 L352.9,1410.4 L350.2,1415.3 L347.5,1420.2 L344.9,1425.2 L342.2,1430.1 L339.6,1435.1 L337,1440 L334.5,1445 L331.9,1450 L329.4,1455 L327,1460 L324.6,1465.1 L322.2,1470.1 L319.8,1475.2 L317.5,1480.3 L315.2,1485.4 L313,1490.5 L310.8,1495.6 L308.7,1500.8 L306.6,1505.9 L304.6,1511.1 L302.6,1516.3 L300.6,1521.5 L298.8,1526.8 L296.9,1532 L295.2,1537.3" fill="none" stroke="#ff0000" stroke-width="12" stroke-linecap="round" stroke-linejoin="round"/>
<path d="M642.2,1197 L648.1,1196.9 L653.9,1197.3 L659.4,1198.1 L664.8,1199.4 L670,1201.1 L675.1,1203.1 L680.1,1205.4 L684.9,1208 L689.6,1210.9 L694.2,1214 L698.7,1217.2 L703.1,1220.7 L707.5,1224.2 L711.8,1227.8 L716.1,1231.6 L720.3,1235.3 L724.4,1239.2 L728.5,1243.1 L732.5,1247 L736.5,1251 L740.4,1255.1 L744.3,1259.2 L748.1,1263.4 L751.8,1267.6 L755.4,1271.9 L759,1276.2 L762.6,1280.6 L766,1285 L769.4,1289.4 L772.7,1293.9 L776,1298.4 L779.2,1303 L782.4,1307.6 L785.5,1312.2 L788.5,1316.9 L791.5,1321.5 L794.5,1326.3 L797.4,1331 L800.2,1335.8 L803.1,1340.6 L805.9,1345.4 L808.6,1350.3 L811.3,1355.2 L814,1360 L816.7,1365 L819.3,1369.9 L821.9,1374.8 L824.5,1379.8 L827.1,1384.8 L829.6,1389.8 L832.2,1394.8 L834.7,1399.8 L837.2,1404.8 L839.7,1409.8 L842.1,1414.9 L844.6,1419.9 L847,1425 L849.4,1430.1 L851.8,1435.1 L854.2,1440.2 L856.5,1445.3 L858.9,1450.4 L861.2,1455.5 L863.5,1460.7 L865.8,1465.8 L868.1,1470.9 L870.4,1476 L872.7,1481.2 L874.9,1486.3 L877.2,1491.4 L879.4,1496.6 L881.6,1501.7 L883.8,1506.9 L886,1512 L888.2,1517.1 L890.4,1522.3 L892.6,1527.4 L894.7,1532.6 L896.9,1537.7" fill="none" stroke="#ff0000" stroke-width="12" stroke-linecap="round" stroke-linejoin="round"/>
<path d="M695.4,1164.2 L700,1167.4 L704.5,1170.7 L708.8,1174.2 L713.1,1177.7 L717.2,1181.3 L721.2,1185 L725.2,1188.8 L729,1192.7 L732.8,1196.6 L736.5,1200.7 L740.1,1204.8 L743.7,1209 L747.1,1213.2 L750.5,1217.5 L753.8,1221.9 L757.1,1226.3 L760.3,1230.8 L763.5,1235.3 L766.6,1239.8 L769.7,1244.4 L772.7,1249.1 L775.7,1253.7 L778.6,1258.4 L781.5,1263.1 L784.4,1267.9 L787.2,1272.6 L790.1,1277.4 L792.9,1282.1 L795.7,1286.9 L798.5,1291.7 L801.3,1296.5 L804.1,1301.3 L806.8,1306 L809.6,1310.8 L812.3,1315.6 L815.1,1320.4 L817.8,1325.2 L820.5,1330 L823.2,1334.8 L825.8,1339.6 L828.5,1344.4 L831.1,1349.2 L833.7,1354 L836.3,1358.9 L838.9,1363.7 L841.4,1368.6 L843.9,1373.5 L846.4,1378.3 L848.9,1383.2 L851.3,1388.2 L853.7,1393.1 L856.1,1398 L858.5,1403 L860.8,1408 L863.1,1413 L865.3,1418 L867.6,1423 L869.7,1428.1 L871.9,1433.1 L874,1438.2 L876.1,1443.4 L878.2,1448.5 L880.2,1453.6 L882.2,1458.8 L884.2,1463.9 L886.2,1469.1 L888.2,1474.3 L890.2,1479.4 L892.2,1484.6 L894.1,1489.8 L896.1,1494.9 L898.1,1500.1 L900.1,1505.2 L902.1,1510.4 L904.1,1515.5 L906.2,1520.6 L908.3,1525.7 L910.4,1530.8 L912.5,1535.8" fill="none" stroke="#ff0000" stroke-width="12" stroke-linecap="round" stroke-linejoin="round"/>
<ellipse cx="417.7" cy="1206" rx="9.4" ry="7" fill="#0000ff"/>
<ellipse cx="454.5" cy="1206" rx="9.4" ry="7" fill="#0000ff"/>
<ellipse cx="523.4" cy="1206" rx="9.4" ry="7" fill="#0000ff"/>
<ellipse cx="681.5" cy="1206" rx="9.4" ry="7" fill="#0000ff"/>
<ellipse cx="741.3" cy="1206" rx="9.4" ry="7" fill="#0000ff"/>
<text transform="translate(67,1206.5) rotate(-90)" text-anchor="middle" class="t">Energy (meV)</text>
<text x="216.7" y="930.4" class="tag">c)</text>
<text x="381.4" y="1197.4" class="it">c</text>
<text x="438.8" y="1196.2" class="it">d</text>
<text x="503.2" y="1190.6" class="it">e</text>
<text x="662.1" y="1189" class="it">f</text>
<text x="737.7" y="1192.7" class="it">g</text>
<rect x="1139" y="41" width="795" height="3" fill="#000"/>
<rect x="1139" y="713" width="795" height="3" fill="#000"/>
<rect x="1155" y="42.5" width="3" height="672" fill="#000"/>
<rect x="1931" y="42.5" width="3" height="672" fill="#000"/>
<rect x="1139" y="176" width="17.5" height="3" fill="#000"/>
<rect x="1139" y="310" width="17.5" height="3" fill="#000"/>
<rect x="1139" y="445" width="17.5" height="3" fill="#000"/>
<rect x="1139" y="579" width="17.5" height="3" fill="#000"/>
<rect x="1155" y="714.5" width="2" height="11.5" fill="#000"/>
<rect x="1284" y="714.5" width="3" height="17" fill="#000"/>
<text x="1285" y="809.6" text-anchor="middle" class="t">0</text>
<rect x="1414" y="714.5" width="2" height="11.5" fill="#000"/>
<rect x="1543" y="714.5" width="3" height="17" fill="#000"/>
<text x="1543.7" y="809.6" text-anchor="middle" class="t">200</text>
<rect x="1672" y="714.5" width="2" height="11.5" fill="#000"/>
<rect x="1801" y="714.5" width="3" height="17" fill="#000"/>
<text x="1802.3" y="809.6" text-anchor="middle" class="t">400</text>
<rect x="1931" y="714.5" width="2" height="11.5" fill="#000"/>
<path d="M1156.5,714.4 L1158.9,714.5 L1161.3,714.5 L1163.7,714.5 L1166.1,714.5 L1168.5,714.5 L1170.9,714.5 L1173.3,714.5 L1175.6,714.5 L1178,714.5 L1180.3,714.4 L1182.7,714.4 L1185,714.3 L1187.4,714.3 L1189.7,714.2 L1192.1,714.2 L1194.5,714.2 L1196.9,714.3 L1199.3,714.3 L1201.8,714.5 L1204.2,714.5 L1206.7,714.5 L1209.1,714.5 L1211.5,714.5 L1214,714.5 L1216.3,714.5 L1218.7,714.5 L1221,714.1 L1223.3,713.5 L1225.5,712.8 L1227.6,711.8 L1229.7,710.7 L1231.7,709.5 L1233.7,708.1 L1235.5,706.6 L1237.3,704.9 L1238.9,703.2 L1240.5,701.4 L1241.9,699.5 L1243.2,697.5 L1244.5,695.5 L1245.6,693.4 L1246.6,691.3 L1247.6,689.1 L1248.5,686.9 L1249.3,684.7 L1250,682.4 L1250.8,680.1 L1251.4,677.8 L1252.1,675.5 L1252.7,673.2 L1253.3,670.9 L1253.9,668.6 L1254.5,666.3 L1255.1,663.9 L1255.7,661.6 L1256.3,659.3 L1256.8,657 L1257.3,654.6 L1257.9,652.3 L1258.4,650 L1258.9,647.6 L1259.4,645.3 L1259.9,643 L1260.4,640.6 L1260.9,638.3 L1261.3,635.9 L1261.8,633.6 L1262.2,631.3 L1262.7,628.9 L1263.1,626.6 L1263.5,624.2 L1264,621.9 L1264.4,619.5 L1264.8,617.2 L1265.2,614.8 L1265.6,612.5 L1265.9,610.1 L1266.3,607.8 L1266.7,605.4 L1267,603 L1267.4,600.7 L1267.8,598.3 L1268.1,596 L1268.4,593.6 L1268.8,591.3 L1269.1,588.9 L1269.4,586.5 L1269.7,584.2 L1270.1,581.8 L1270.4,579.4 L1270.7,577.1 L1271,574.7 L1271.3,572.4 L1271.6,570 L1271.9,567.6 L1272.2,565.3 L1272.4,562.9 L1272.7,560.5 L1273,558.2 L1273.3,555.8 L1273.5,553.4 L1273.8,551.1 L1274.1,548.7 L1274.4,546.3 L1274.6,543.9 L1274.9,541.6 L1275.2,539.2 L1275.4,536.8 L1275.7,534.5 L1275.9,532.1 L1276.2,529.7 L1276.4,527.4 L1276.7,525 L1277,522.6 L1277.2,520.3 L1277.5,517.9 L1277.7,515.5 L1278,513.1 L1278.2,510.8 L1278.4,508.4 L1278.7,506 L1278.9,503.7 L1279.2,501.3 L1279.4,498.9 L1279.7,496.6 L1279.9,494.2 L1280.1,491.8 L1280.4,489.4 L1280.6,487.1 L1280.8,484.7 L1281.1,482.3 L1281.3,480 L1281.5,477.6 L1281.8,475.2 L1282,472.8 L1282.2,470.5 L1282.5,468.1 L1282.7,465.7 L1282.9,463.3 L1283.1,461 L1283.4,458.6 L1283.6,456.2 L1283.8,453.9 L1284,451.5 L1284.3,449.1 L1284.5,446.7 L1284.7,444.4 L1284.9,442 L1285.1,439.6 L1285.4,437.2 L1285.6,434.9 L1285.8,432.5 L1286,430.1 L1286.2,427.7 L1286.5,425.4 L1286.7,423 L1286.9,420.6 L1287.1,418.2 L1287.3,415.9 L1287.5,413.5 L1287.7,411.1 L1288,408.7 L1288.2,406.4 L1288.4,404 L1288.6,401.6 L1288.8,399.2 L1289,396.9 L1289.2,394.5 L1289.4,392.1 L1289.6,389.7 L1289.9,387.4 L1290.1,385 L1290.3,382.6 L1290.5,380.2 L1290.7,377.9 L1290.9,375.5 L1291.1,373.1 L1291.3,370.7 L1291.5,368.3 L1291.8,366 L1292,363.6 L1292.2,361.2 L1292.4,358.8 L1292.6,356.5 L1292.8,354.1 L1293,351.7 L1293.2,349.3 L1293.4,346.9 L1293.6,344.6 L1293.9,342.2 L1294.1,339.8 L1294.3,337.4 L1294.5,335 L1294.7,332.7 L1294.9,330.3 L1295.1,327.9 L1295.4,325.5 L1295.6,323.2 L1295.8,320.8 L1296,318.4 L1296.2,316 L1296.5,313.6 L1296.7,311.3 L1296.9,308.9 L1297.1,306.5 L1297.4,304.1 L1297.6,301.8 L1297.8,299.4 L1298.1,297 L1298.3,294.6 L1298.5,292.3 L1298.8,289.9 L1299,287.5 L1299.2,285.1 L1299.5,282.8 L1299.7,280.4 L1300,278 L1300.2,275.7 L1300.5,273.3 L1300.7,270.9 L1301,268.5 L1301.3,266.2 L1301.5,263.8 L1301.8,261.4 L1302.1,259.1 L1302.3,256.7 L1302.6,254.3 L1302.9,252 L1303.2,249.6 L1303.4,247.2 L1303.7,244.9 L1304,242.5 L1304.3,240.1 L1304.6,237.8 L1304.9,235.4 L1305.2,233.1 L1305.5,230.7 L1305.8,228.3 L1306.1,226 L1306.4,223.6 L1306.8,221.3 L1307.1,218.9 L1307.4,216.5 L1307.8,214.2 L1308.1,211.8 L1308.4,209.5 L1308.8,207.1 L1309.1,204.8 L1309.5,202.4 L1309.8,200.1 L1310.2,197.7 L1310.6,195.4 L1310.9,193 L1311.3,190.7 L1311.7,188.4 L1312.1,186 L1312.5,183.7 L1312.9,181.3 L1313.3,179 L1313.8,176.6 L1314.2,174.3 L1314.7,172 L1315.2,169.6 L1315.7,167.3 L1316.2,165 L1316.7,162.6 L1317.3,160.3 L1317.8,158 L1318.4,155.6 L1319,153.3 L1319.6,151 L1320.3,148.6 L1320.9,146.3 L1321.6,144 L1322.3,141.7 L1323.1,139.3 L1323.9,137 L1324.7,134.7 L1325.7,132.5 L1326.9,130.5 L1328.4,128.8 L1330.3,127.3 L1332.5,126.3 L1334.7,126 L1336.6,126.5 L1338.3,127.8 L1339.7,129.5 L1340.9,131.6 L1342.1,133.7 L1343.2,135.9 L1344.3,138.1 L1345.3,140.3 L1346.3,142.5 L1347.3,144.7 L1348.2,146.9 L1349,149.2 L1349.9,151.4 L1350.7,153.7 L1351.5,155.9 L1352.2,158.2 L1352.9,160.5 L1353.6,162.7 L1354.3,165 L1355,167.3 L1355.6,169.6 L1356.2,171.9 L1356.8,174.2 L1357.4,176.5 L1358,178.8 L1358.6,181.1 L1359.2,183.4 L1359.8,185.8 L1360.4,188.1 L1360.9,190.4 L1361.5,192.7 L1362.1,195 L1362.7,197.3 L1363.2,199.6 L1363.8,201.9 L1364.4,204.3 L1364.9,206.6 L1365.5,208.9 L1366,211.2 L1366.6,213.5 L1367.2,215.8 L1367.7,218.2 L1368.3,220.5 L1368.8,222.8 L1369.4,225.1 L1369.9,227.4 L1370.5,229.7 L1371,232.1 L1371.6,234.4 L1372.1,236.7 L1372.7,239 L1373.2,241.3 L1373.8,243.7 L1374.3,246 L1374.9,248.3 L1375.4,250.6 L1375.9,253 L1376.5,255.3 L1377,257.6 L1377.6,259.9 L1378.1,262.2 L1378.6,264.6 L1379.2,266.9 L1379.7,269.2 L1380.3,271.5 L1380.8,273.9 L1381.3,276.2 L1381.9,278.5 L1382.4,280.8 L1383,283.2 L1383.5,285.5 L1384,287.8 L1384.6,290.1 L1385.1,292.4 L1385.7,294.8 L1386.2,297.1 L1386.7,299.4 L1387.3,301.7 L1387.8,304.1 L1388.4,306.4 L1388.9,308.7 L1389.4,311 L1390,313.3 L1390.5,315.7 L1391.1,318 L1391.6,320.3 L1392.2,322.6 L1392.7,325 L1393.3,327.3 L1393.8,329.6 L1394.4,331.9 L1394.9,334.2 L1395.5,336.6 L1396,338.9 L1396.6,341.2 L1397.1,343.5 L1397.7,345.8 L1398.3,348.1 L1398.8,350.5 L1399.4,352.8 L1399.9,355.1 L1400.5,357.4 L1401.1,359.7 L1401.6,362 L1402.2,364.4 L1402.8,366.7 L1403.4,369 L1403.9,371.3 L1404.5,373.6 L1405.1,375.9 L1405.7,378.2 L1406.3,380.5 L1406.8,382.9 L1407.4,385.2 L1408,387.5 L1408.6,389.8 L1409.2,392.1 L1409.8,394.4 L1410.4,396.7 L1411,399 L1411.6,401.3 L1412.2,403.6 L1412.8,405.9 L1413.4,408.2 L1414.1,410.5 L1414.7,412.8 L1415.3,415.1 L1415.9,417.4 L1416.5,419.7 L1417.2,422 L1417.8,424.3 L1418.4,426.6 L1419.1,428.9 L1419.7,431.2 L1420.4,433.5 L1421,435.8 L1421.7,438.1 L1422.3,440.4 L1423,442.7 L1423.6,445 L1424.3,447.3 L1425,449.5 L1425.6,451.8 L1426.3,454.1 L1427,456.4 L1427.7,458.7 L1428.4,461 L1429,463.3 L1429.7,465.5 L1430.4,467.8 L1431.1,470.1 L1431.8,472.4 L1432.6,474.6 L1433.3,476.9 L1434,479.2 L1434.7,481.5 L1435.4,483.7 L1436.2,486 L1436.9,488.3 L1437.6,490.5 L1438.4,492.8 L1439.1,495.1 L1439.9,497.3 L1440.6,499.6 L1441.4,501.9 L1442.2,504.1 L1442.9,506.4 L1443.7,508.6 L1444.5,510.9 L1445.3,513.1 L1446.1,515.4 L1446.9,517.7 L1447.7,519.9 L1448.5,522.2 L1449.3,524.4 L1450.1,526.6 L1450.9,528.9 L1451.7,531.1 L1452.6,533.4 L1453.4,535.6 L1454.3,537.8 L1455.1,540.1 L1456,542.3 L1456.9,544.5 L1457.7,546.7 L1458.6,549 L1459.5,551.2 L1460.4,553.4 L1461.3,555.6 L1462.3,557.8 L1463.2,560 L1464.2,562.2 L1465.1,564.3 L1466.1,566.5 L1467.1,568.7 L1468,570.9 L1469.1,573 L1470.1,575.2 L1471.1,577.3 L1472.1,579.5 L1473.2,581.6 L1474.2,583.7 L1475.3,585.9 L1476.4,588 L1477.5,590.1 L1478.6,592.2 L1479.8,594.3 L1480.9,596.4 L1482.1,598.4 L1483.3,600.5 L1484.5,602.6 L1485.7,604.6 L1486.9,606.6 L1488.2,608.7 L1489.4,610.7 L1490.7,612.7 L1492,614.7 L1493.3,616.7 L1494.7,618.7 L1496,620.6 L1497.4,622.6 L1498.8,624.5 L1500.2,626.5 L1501.6,628.4 L1503.1,630.3 L1504.6,632.2 L1506.1,634.1 L1507.6,635.9 L1509.1,637.8 L1510.6,639.6 L1512.2,641.4 L1513.8,643.2 L1515.4,645 L1517,646.7 L1518.7,648.5 L1520.3,650.2 L1522,651.9 L1523.7,653.5 L1525.4,655.2 L1527.2,656.8 L1528.9,658.4 L1530.7,660 L1532.5,661.5 L1534.3,663 L1536.2,664.5 L1538,666 L1539.9,667.4 L1541.8,668.8 L1543.8,670.2 L1545.7,671.5 L1547.7,672.8 L1549.7,674.1 L1551.7,675.4 L1553.7,676.6 L1555.7,677.8 L1557.8,678.9 L1559.9,680 L1562,681.1 L1564.1,682.2 L1566.3,683.2 L1568.4,684.2 L1570.6,685.2 L1572.8,686.1 L1575,687 L1577.2,687.9 L1579.4,688.8 L1581.6,689.6 L1583.9,690.4 L1586.2,691.2 L1588.4,692 L1590.7,692.7 L1593,693.4 L1595.3,694.1 L1597.6,694.8 L1599.9,695.5 L1602.2,696.1 L1604.6,696.7 L1606.9,697.3 L1609.3,697.9 L1611.6,698.4 L1613.9,699 L1616.3,699.5 L1618.7,700 L1621,700.5 L1623.4,701 L1625.7,701.5 L1628.1,701.9 L1630.4,702.4 L1632.8,702.8 L1635.2,703.2 L1637.5,703.6 L1639.9,704 L1642.2,704.4 L1644.6,704.7 L1646.9,705.1 L1649.3,705.4 L1651.6,705.8 L1654,706.1 L1656.4,706.4 L1658.7,706.7 L1661.1,707 L1663.4,707.3 L1665.8,707.6 L1668.1,707.9 L1670.5,708.1 L1672.9,708.4 L1675.2,708.6 L1677.6,708.9 L1679.9,709.1 L1682.3,709.3 L1684.7,709.5 L1687,709.7 L1689.4,709.9 L1691.8,710.1 L1694.1,710.3 L1696.5,710.5 L1698.9,710.7 L1701.2,710.9 L1703.6,711 L1706,711.2 L1708.4,711.4 L1710.7,711.5 L1713.1,711.7 L1715.5,711.8 L1717.8,711.9 L1720.2,712.1 L1722.6,712.2 L1725,712.3 L1727.4,712.4 L1729.7,712.5 L1732.1,712.6 L1734.5,712.7 L1736.9,712.8 L1739.3,712.9 L1741.6,713 L1744,713.1 L1746.4,713.2 L1748.8,713.3 L1751.2,713.4 L1753.6,713.4 L1755.9,713.5 L1758.3,713.5 L1760.7,713.6 L1763.1,713.7 L1765.5,713.7 L1767.9,713.8 L1770.3,713.8 L1772.6,713.9 L1775,713.9 L1777.4,713.9 L1779.8,714 L1782.2,714 L1784.6,714 L1787,714.1 L1789.4,714.1 L1791.8,714.1 L1794.2,714.1 L1796.5,714.1 L1798.9,714.2 L1801.3,714.2 L1803.7,714.2 L1806.1,714.2 L1808.5,714.2 L1810.9,714.2 L1813.3,714.2 L1815.7,714.2 L1818.1,714.2 L1820.4,714.2 L1822.8,714.2 L1825.2,714.2 L1827.6,714.2 L1830,714.2 L1832.4,714.2 L1834.8,714.2 L1837.2,714.2 L1839.6,714.2 L1842,714.2 L1844.4,714.2 L1846.7,714.2 L1849.1,714.2 L1851.5,714.2 L1853.9,714.2 L1856.3,714.2 L1858.7,714.2 L1861.1,714.2 L1863.5,714.2 L1865.8,714.2 L1868.2,714.2 L1870.6,714.2 L1873,714.2 L1875.4,714.2 L1877.8,714.2 L1880.2,714.2 L1882.5,714.2 L1884.9,714.2 L1887.3,714.2 L1889.7,714.2 L1892.1,714.2 L1894.4,714.2 L1896.8,714.2 L1899.2,714.2 L1901.6,714.3 L1904,714.3 L1906.3,714.3 L1908.7,714.3 L1911.1,714.3 L1913.5,714.4 L1915.8,714.4 L1918.2,714.4 L1920.6,714.5 L1923,714.5 L1925.3,714.5 L1927.7,714.5 L1930.1,714.5 L1932.4,714.5" fill="none" stroke="#800000" stroke-width="7" stroke-linecap="round" stroke-linejoin="round"/>
<text transform="translate(1081,378.5) rotate(-90)" text-anchor="middle" class="t">Prob. density (arb. u.)</text>
<text x="1190.8" y="109.5" class="tag">b)</text>
<text x="1371.8" y="170.7" class="it">a b</text>
<rect x="1139" y="868" width="795" height="4" fill="#000"/>
<rect x="1139" y="1541" width="795" height="3" fill="#000"/>
<rect x="1155" y="870.5" width="3" height="672" fill="#000"/>
<rect x="1931" y="870.5" width="3" height="672" fill="#000"/>
<rect x="1139" y="1037" width="17.5" height="3" fill="#000"/>
<rect x="1139" y="1205" width="17.5" height="3" fill="#000"/>
<rect x="1139" y="1373" width="17.5" height="3" fill="#000"/>
<rect x="1155" y="1542.5" width="2" height="11.5" fill="#000"/>
<rect x="1284" y="1542.5" width="3" height="17" fill="#000"/>
<text x="1285" y="1636.8" text-anchor="middle" class="t">0</text>
<rect x="1414" y="1542.5" width="2" height="11.5" fill="#000"/>
<rect x="1543" y="1542.5" width="3" height="17" fill="#000"/>
<text x="1543.7" y="1636.8" text-anchor="middle" class="t">200</text>
<rect x="1672" y="1542.5" width="2" height="11.5" fill="#000"/>
<rect x="1801" y="1542.5" width="3" height="17" fill="#000"/>
<text x="1802.3" y="1636.8" text-anchor="middle" class="t">400</text>
<rect x="1931" y="1542.5" width="2" height="11.5" fill="#000"/>
<path d="M1156.4,1541.5 L1159.1,1541.5 L1161.7,1541.5 L1164.3,1541.5 L1167,1541.5 L1169.6,1541.5 L1172.2,1541.4 L1174.8,1541.4 L1177.4,1541.4 L1180,1541.4 L1182.6,1541.4 L1185.2,1541.4 L1187.8,1541.5 L1190.4,1541.5 L1193,1541.5 L1195.6,1541.5 L1198.2,1541.5 L1200.8,1541.5 L1203.4,1541.5 L1206,1541.5 L1208.6,1541.5 L1211.2,1541.5 L1213.8,1541.5 L1216.4,1541.5 L1219,1541.5 L1221.7,1541.5 L1224.3,1541.5 L1226.9,1541.5 L1229.5,1541.5 L1232.1,1541.5 L1234.7,1541.5 L1237.4,1541.5 L1240,1541.5 L1242.6,1541.4 L1245.3,1541.4 L1247.9,1541.4 L1250.6,1541.3 L1253.3,1541.2 L1255.9,1541.1 L1258.4,1540.6 L1260.6,1539.7 L1262.6,1538.3 L1264.3,1536.4 L1265.8,1534.3 L1267.2,1532 L1268.4,1529.6 L1269.6,1527.2 L1270.6,1524.8 L1271.6,1522.3 L1272.5,1519.9 L1273.3,1517.4 L1274,1514.9 L1274.7,1512.4 L1275.3,1509.8 L1275.8,1507.3 L1276.3,1504.7 L1276.7,1502.2 L1277.1,1499.6 L1277.5,1497 L1277.8,1494.4 L1278.1,1491.8 L1278.4,1489.2 L1278.6,1486.6 L1278.9,1484 L1279.1,1481.4 L1279.4,1478.8 L1279.6,1476.2 L1279.9,1473.6 L1280.1,1471 L1280.3,1468.4 L1280.6,1465.8 L1280.8,1463.2 L1281,1460.6 L1281.3,1458 L1281.5,1455.4 L1281.7,1452.8 L1282,1450.2 L1282.2,1447.6 L1282.4,1445 L1282.7,1442.4 L1282.9,1439.8 L1283.1,1437.2 L1283.4,1434.6 L1283.6,1432 L1283.8,1429.4 L1284,1426.8 L1284.2,1424.2 L1284.5,1421.6 L1284.7,1419 L1284.9,1416.4 L1285.1,1413.8 L1285.3,1411.2 L1285.5,1408.6 L1285.7,1406 L1285.9,1403.4 L1286.1,1400.8 L1286.3,1398.2 L1286.5,1395.6 L1286.7,1393 L1286.9,1390.4 L1287.1,1387.8 L1287.3,1385.2 L1287.5,1382.6 L1287.7,1380 L1287.8,1377.4 L1288,1374.8 L1288.2,1372.2 L1288.4,1369.6 L1288.5,1367 L1288.7,1364.4 L1288.9,1361.8 L1289.1,1359.2 L1289.2,1356.6 L1289.4,1354 L1289.6,1351.4 L1289.7,1348.8 L1289.9,1346.2 L1290,1343.6 L1290.2,1341 L1290.4,1338.4 L1290.5,1335.8 L1290.7,1333.2 L1290.8,1330.6 L1291,1328 L1291.1,1325.3 L1291.3,1322.7 L1291.4,1320.1 L1291.6,1317.5 L1291.7,1314.9 L1291.9,1312.3 L1292,1309.7 L1292.1,1307.1 L1292.3,1304.5 L1292.4,1301.9 L1292.6,1299.3 L1292.7,1296.7 L1292.8,1294.1 L1293,1291.5 L1293.1,1288.9 L1293.3,1286.3 L1293.4,1283.7 L1293.5,1281.1 L1293.7,1278.5 L1293.8,1275.9 L1293.9,1273.3 L1294.1,1270.7 L1294.2,1268 L1294.3,1265.4 L1294.5,1262.8 L1294.6,1260.2 L1294.7,1257.6 L1294.9,1255 L1295,1252.4 L1295.1,1249.8 L1295.3,1247.2 L1295.4,1244.6 L1295.5,1242 L1295.7,1239.4 L1295.8,1236.8 L1295.9,1234.2 L1296.1,1231.5 L1296.2,1228.9 L1296.3,1226.3 L1296.4,1223.7 L1296.6,1221.1 L1296.7,1218.5 L1296.8,1215.9 L1297,1213.3 L1297.1,1210.7 L1297.2,1208.1 L1297.4,1205.5 L1297.5,1202.8 L1297.6,1200.2 L1297.8,1197.6 L1297.9,1195 L1298,1192.4 L1298.2,1189.8 L1298.3,1187.2 L1298.4,1184.6 L1298.6,1182 L1298.7,1179.4 L1298.9,1176.8 L1299,1174.2 L1299.1,1171.5 L1299.3,1168.9 L1299.4,1166.3 L1299.5,1163.7 L1299.7,1161.1 L1299.8,1158.5 L1300,1155.9 L1300.1,1153.3 L1300.2,1150.7 L1300.4,1148.1 L1300.5,1145.5 L1300.7,1142.9 L1300.8,1140.3 L1301,1137.7 L1301.1,1135 L1301.2,1132.4 L1301.4,1129.8 L1301.5,1127.2 L1301.7,1124.6 L1301.8,1122 L1302,1119.4 L1302.1,1116.8 L1302.3,1114.2 L1302.4,1111.6 L1302.6,1109 L1302.7,1106.4 L1302.9,1103.8 L1303,1101.2 L1303.2,1098.6 L1303.4,1096 L1303.5,1093.4 L1303.7,1090.8 L1303.8,1088.2 L1304,1085.6 L1304.2,1083 L1304.3,1080.4 L1304.5,1077.8 L1304.7,1075.2 L1304.8,1072.6 L1305,1070 L1305.2,1067.4 L1305.3,1064.8 L1305.5,1062.2 L1305.7,1059.6 L1305.8,1057 L1306,1054.4 L1306.2,1051.8 L1306.4,1049.2 L1306.6,1046.6 L1306.7,1044.1 L1306.9,1041.5 L1307.1,1038.9 L1307.3,1036.3 L1307.5,1033.7 L1307.7,1031.1 L1307.9,1028.5 L1308.1,1025.9 L1308.3,1023.3 L1308.5,1020.7 L1308.7,1018.1 L1308.9,1015.5 L1309.2,1012.9 L1309.4,1010.3 L1309.6,1007.7 L1309.9,1005.1 L1310.1,1002.5 L1310.3,999.9 L1310.6,997.3 L1310.8,994.7 L1311.1,992.1 L1311.3,989.5 L1311.6,986.9 L1311.8,984.3 L1312.1,981.7 L1312.4,979.1 L1312.7,976.5 L1313,973.9 L1313.2,971.2 L1313.5,968.6 L1313.8,966 L1314.2,963.4 L1314.5,960.8 L1314.8,958.2 L1315.1,955.6 L1315.4,952.9 L1315.8,950.3 L1316.1,947.7 L1316.5,945.1 L1316.8,942.4 L1317.2,939.8 L1317.5,937.2 L1317.9,934.6 L1318.4,931.9 L1319,929.4 L1319.8,926.9 L1320.9,924.6 L1322.3,922.5 L1323.9,921 L1325.7,920.7 L1327.4,921.6 L1328.9,923.5 L1330.2,925.7 L1331.2,928.2 L1332,930.7 L1332.5,933.2 L1333,935.8 L1333.5,938.5 L1333.9,941.1 L1334.3,943.7 L1334.8,946.3 L1335.2,948.9 L1335.6,951.5 L1336.1,954.1 L1336.5,956.7 L1336.9,959.4 L1337.3,962 L1337.8,964.6 L1338.2,967.2 L1338.6,969.8 L1339,972.3 L1339.4,974.9 L1339.8,977.5 L1340.2,980.1 L1340.6,982.7 L1341,985.3 L1341.4,987.9 L1341.8,990.5 L1342.2,993.1 L1342.6,995.6 L1343,998.2 L1343.4,1000.8 L1343.8,1003.4 L1344.2,1006 L1344.6,1008.5 L1345,1011.1 L1345.4,1013.7 L1345.7,1016.3 L1346.1,1018.8 L1346.5,1021.4 L1346.9,1024 L1347.2,1026.6 L1347.6,1029.1 L1348,1031.7 L1348.3,1034.3 L1348.7,1036.9 L1349.1,1039.4 L1349.4,1042 L1349.8,1044.6 L1350.1,1047.2 L1350.5,1049.7 L1350.8,1052.3 L1351.2,1054.9 L1351.5,1057.5 L1351.9,1060 L1352.2,1062.6 L1352.6,1065.2 L1352.9,1067.8 L1353.2,1070.3 L1353.6,1072.9 L1353.9,1075.5 L1354.2,1078.1 L1354.6,1080.7 L1354.9,1083.2 L1355.2,1085.8 L1355.5,1088.4 L1355.9,1091 L1356.2,1093.6 L1356.5,1096.2 L1356.8,1098.8 L1357.1,1101.3 L1357.5,1103.9 L1357.8,1106.5 L1358.1,1109.1 L1358.4,1111.7 L1358.7,1114.3 L1359,1116.9 L1359.3,1119.5 L1359.7,1122.1 L1360,1124.7 L1360.3,1127.2 L1360.6,1129.8 L1360.9,1132.4 L1361.2,1135 L1361.5,1137.6 L1361.8,1140.2 L1362.1,1142.8 L1362.4,1145.4 L1362.8,1148 L1363.1,1150.6 L1363.4,1153.2 L1363.7,1155.8 L1364,1158.4 L1364.3,1161 L1364.6,1163.6 L1364.9,1166.2 L1365.3,1168.8 L1365.6,1171.4 L1365.9,1173.9 L1366.2,1176.5 L1366.5,1179.1 L1366.9,1181.7 L1367.2,1184.3 L1367.5,1186.9 L1367.8,1189.5 L1368.2,1192.1 L1368.5,1194.7 L1368.8,1197.3 L1369.2,1199.9 L1369.5,1202.5 L1369.8,1205.1 L1370.2,1207.7 L1370.5,1210.3 L1370.9,1212.9 L1371.2,1215.4 L1371.6,1218 L1371.9,1220.6 L1372.3,1223.2 L1372.6,1225.8 L1373,1228.4 L1373.3,1231 L1373.7,1233.6 L1374.1,1236.2 L1374.5,1238.7 L1374.8,1241.3 L1375.2,1243.9 L1375.6,1246.5 L1376,1249.1 L1376.4,1251.7 L1376.8,1254.2 L1377.2,1256.8 L1377.6,1259.4 L1378,1262 L1378.4,1264.6 L1378.8,1267.1 L1379.2,1269.7 L1379.6,1272.3 L1380.1,1274.9 L1380.5,1277.4 L1380.9,1280 L1381.4,1282.6 L1381.8,1285.2 L1382.2,1287.7 L1382.7,1290.3 L1383.2,1292.9 L1383.6,1295.4 L1384.1,1298 L1384.6,1300.6 L1385,1303.1 L1385.5,1305.7 L1386,1308.2 L1386.5,1310.8 L1387,1313.4 L1387.5,1315.9 L1388,1318.5 L1388.5,1321 L1389.1,1323.6 L1389.6,1326.1 L1390.1,1328.7 L1390.7,1331.2 L1391.2,1333.8 L1391.8,1336.3 L1392.3,1338.9 L1392.9,1341.4 L1393.5,1343.9 L1394,1346.5 L1394.6,1349 L1395.2,1351.5 L1395.8,1354.1 L1396.4,1356.6 L1397,1359.1 L1397.6,1361.7 L1398.3,1364.2 L1398.9,1366.7 L1399.5,1369.2 L1400.2,1371.7 L1400.8,1374.3 L1401.5,1376.8 L1402.2,1379.3 L1402.9,1381.8 L1403.5,1384.3 L1404.2,1386.8 L1404.9,1389.3 L1405.7,1391.8 L1406.4,1394.3 L1407.1,1396.8 L1407.8,1399.3 L1408.6,1401.8 L1409.3,1404.3 L1410.1,1406.8 L1410.9,1409.3 L1411.6,1411.8 L1412.4,1414.3 L1413.2,1416.7 L1414,1419.2 L1414.9,1421.7 L1415.7,1424.2 L1416.5,1426.6 L1417.4,1429.1 L1418.3,1431.5 L1419.2,1434 L1420.1,1436.5 L1421,1438.9 L1421.9,1441.3 L1422.8,1443.8 L1423.8,1446.2 L1424.8,1448.7 L1425.8,1451.1 L1426.8,1453.5 L1427.8,1455.9 L1428.9,1458.3 L1429.9,1460.7 L1431,1463.1 L1432.1,1465.5 L1433.3,1467.9 L1434.4,1470.3 L1435.6,1472.7 L1436.8,1475 L1438,1477.4 L1439.3,1479.7 L1440.6,1482 L1441.9,1484.3 L1443.2,1486.6 L1444.6,1488.8 L1446.1,1491 L1447.5,1493.1 L1449.1,1495.3 L1450.6,1497.3 L1452.2,1499.4 L1453.9,1501.4 L1455.6,1503.3 L1457.4,1505.2 L1459.2,1507 L1461.1,1508.8 L1463,1510.5 L1465,1512.1 L1467.1,1513.7 L1469.2,1515.2 L1471.3,1516.7 L1473.5,1518.2 L1475.7,1519.5 L1478,1520.8 L1480.3,1522.1 L1482.6,1523.3 L1484.9,1524.5 L1487.3,1525.6 L1489.7,1526.7 L1492.1,1527.7 L1494.5,1528.7 L1497,1529.6 L1499.4,1530.5 L1501.9,1531.3 L1504.4,1532.1 L1506.9,1532.9 L1509.4,1533.6 L1511.9,1534.2 L1514.4,1534.9 L1516.9,1535.5 L1519.4,1536 L1521.9,1536.6 L1524.5,1537.1 L1527,1537.5 L1529.6,1537.9 L1532.1,1538.3 L1534.7,1538.7 L1537.3,1539.1 L1539.9,1539.4 L1542.4,1539.6 L1545,1539.9 L1547.6,1540.1 L1550.2,1540.4 L1552.8,1540.5 L1555.4,1540.7 L1558,1540.9 L1560.6,1541 L1563.3,1541.1 L1565.9,1541.2 L1568.5,1541.3 L1571.1,1541.4 L1573.7,1541.4 L1576.4,1541.5 L1579,1541.5 L1581.6,1541.5 L1584.3,1541.5 L1586.9,1541.5 L1589.5,1541.5 L1592.1,1541.5 L1594.8,1541.5 L1597.4,1541.5 L1600,1541.5 L1602.7,1541.4 L1605.3,1541.4 L1607.9,1541.4 L1610.5,1541.4 L1613.1,1541.4 L1615.8,1541.4 L1618.4,1541.4 L1621,1541.4 L1623.6,1541.4 L1626.2,1541.4 L1628.8,1541.4 L1631.4,1541.4 L1634,1541.4 L1636.6,1541.4 L1639.2,1541.4 L1641.8,1541.4 L1644.4,1541.4 L1647,1541.4 L1649.6,1541.5 L1652.2,1541.5 L1654.8,1541.5 L1657.4,1541.5 L1660,1541.5 L1662.6,1541.5 L1665.2,1541.5 L1667.8,1541.5 L1670.4,1541.5 L1673.1,1541.5 L1675.7,1541.5 L1678.3,1541.5 L1680.9,1541.5 L1683.5,1541.5 L1686.1,1541.5 L1688.7,1541.5 L1691.3,1541.5 L1693.9,1541.5 L1696.5,1541.5 L1699.1,1541.5 L1701.7,1541.5 L1704.4,1541.5 L1707,1541.5 L1709.6,1541.5 L1712.2,1541.5 L1714.8,1541.5 L1717.4,1541.5 L1720,1541.5 L1722.6,1541.5 L1725.2,1541.5 L1727.9,1541.5 L1730.5,1541.5 L1733.1,1541.5 L1735.7,1541.5 L1738.3,1541.5 L1740.9,1541.5 L1743.5,1541.5 L1746.1,1541.5 L1748.8,1541.5 L1751.4,1541.5 L1754,1541.5 L1756.6,1541.5 L1759.2,1541.5 L1761.8,1541.5 L1764.4,1541.5 L1767,1541.5 L1769.6,1541.5 L1772.2,1541.5 L1774.9,1541.5 L1777.5,1541.5 L1780.1,1541.5 L1782.7,1541.5 L1785.3,1541.5 L1787.9,1541.5 L1790.5,1541.5 L1793.1,1541.5 L1795.7,1541.5 L1798.3,1541.5 L1800.9,1541.5 L1803.6,1541.5 L1806.2,1541.5 L1808.8,1541.5 L1811.4,1541.5 L1814,1541.5 L1816.6,1541.5 L1819.2,1541.5 L1821.8,1541.5 L1824.4,1541.5 L1827,1541.5 L1829.6,1541.5 L1832.2,1541.5 L1834.9,1541.5 L1837.5,1541.5 L1840.1,1541.5 L1842.7,1541.5 L1845.3,1541.5 L1847.9,1541.5 L1850.5,1541.5 L1853.1,1541.5 L1855.7,1541.5 L1858.3,1541.5 L1860.9,1541.5 L1863.5,1541.5 L1866.2,1541.5 L1868.8,1541.5 L1871.4,1541.5 L1874,1541.5 L1876.6,1541.5 L1879.2,1541.5 L1881.8,1541.5 L1884.4,1541.5 L1887,1541.5 L1889.6,1541.5 L1892.2,1541.5 L1894.9,1541.5 L1897.5,1541.5 L1900.1,1541.5 L1902.7,1541.5 L1905.3,1541.5 L1907.9,1541.5 L1910.5,1541.5 L1913.1,1541.5 L1915.7,1541.5 L1918.3,1541.5 L1921,1541.5 L1923.6,1541.5 L1926.2,1541.5 L1928.8,1541.5 L1931.4,1541.5" fill="none" stroke="#800000" stroke-width="7" stroke-linecap="round" stroke-linejoin="round"/>
<path d="M1156.5,1541.5 L1158.3,1541.5 L1160.1,1541.5 L1161.9,1541.5 L1163.6,1541.5 L1165.4,1541.5 L1167.2,1541.5 L1169,1541.5 L1170.8,1541.5 L1172.6,1541.5 L1174.4,1541.5 L1176.2,1541.5 L1177.9,1541.5 L1179.7,1541.5 L1181.5,1541.5 L1183.3,1541.5 L1185.1,1541.5 L1186.9,1541.5 L1188.7,1541.5 L1190.5,1541.5 L1192.2,1541.5 L1194,1541.5 L1195.8,1541.5 L1197.6,1541.5 L1199.4,1541.5 L1201.2,1541.5 L1203,1541.5 L1204.8,1541.5 L1206.6,1541.5 L1208.3,1541.5 L1210.1,1541.5 L1211.9,1541.5 L1213.7,1541.5 L1215.5,1541.5 L1217.3,1541.5 L1219.1,1541.5 L1220.8,1541.5 L1222.6,1541.5 L1224.4,1541.5 L1226.2,1541.5 L1228,1541.5 L1229.8,1541.5 L1231.6,1541.5 L1233.3,1541.5 L1235.1,1541.5 L1236.9,1541.5 L1238.7,1541.5 L1240.5,1541.5 L1242.3,1541.5 L1244,1541.5 L1245.8,1541.5 L1247.6,1541.5 L1249.4,1541.5 L1251.2,1541.5 L1253,1541.5 L1254.9,1541.5 L1256.7,1541.5 L1258.5,1541.5 L1260.3,1541.5 L1262.1,1541.5 L1263.8,1541.1 L1265.5,1540.6 L1267.1,1540 L1268.7,1539.3 L1270.2,1538.4 L1271.6,1537.4 L1273,1536.3 L1274.3,1535.2 L1275.5,1533.9 L1276.7,1532.6 L1277.7,1531.1 L1278.7,1529.7 L1279.6,1528.1 L1280.4,1526.5 L1281.2,1524.9 L1281.8,1523.2 L1282.5,1521.5 L1283,1519.8 L1283.6,1518.1 L1284,1516.3 L1284.5,1514.5 L1285,1512.7 L1285.4,1510.9 L1285.8,1509.1 L1286.2,1507.4 L1286.7,1505.6 L1287.1,1503.9 L1287.6,1502.2 L1288,1500.5 L1288.5,1498.8 L1289,1497.1 L1289.5,1495.4 L1290,1493.7 L1290.5,1492 L1290.9,1490.3 L1291.4,1488.6 L1291.9,1486.9 L1292.4,1485.2 L1292.9,1483.5 L1293.4,1481.7 L1293.9,1480 L1294.4,1478.3 L1294.9,1476.6 L1295.4,1474.9 L1295.9,1473.1 L1296.4,1471.4 L1296.9,1469.7 L1297.3,1467.9 L1297.8,1466.2 L1298.3,1464.5 L1298.7,1462.7 L1299.2,1461 L1299.6,1459.3 L1300,1457.5 L1300.5,1455.8 L1300.9,1454.1 L1301.3,1452.3 L1301.7,1450.6 L1302.1,1448.9 L1302.5,1447.2 L1303,1445.4 L1303.5,1443.7 L1304,1442 L1304.5,1440.3 L1305.1,1438.7 L1305.7,1437 L1306.4,1435.3 L1307.1,1433.7 L1307.9,1432 L1308.8,1430.4 L1309.7,1428.8 L1310.8,1427.2 L1311.9,1425.6 L1313,1424.1 L1314.3,1422.7 L1315.6,1421.3 L1316.9,1420.1 L1318.3,1419 L1319.8,1418.1 L1321.2,1417.3 L1322.7,1416.8 L1324.2,1416.5 L1325.8,1416.5 L1327.3,1416.7 L1328.9,1417.2 L1330.4,1417.8 L1332,1418.7 L1333.5,1419.7 L1335,1420.8 L1336.6,1422 L1338.1,1423.3 L1339.6,1424.6 L1341,1426 L1342.5,1427.3 L1343.9,1428.6 L1345.4,1429.8 L1346.8,1430.9 L1348.3,1431.8 L1349.9,1432.6 L1351.5,1433.2 L1353.1,1433.5 L1354.8,1433.7 L1356.5,1433.7 L1358.3,1433.6 L1360,1433.3 L1361.7,1432.9 L1363.3,1432.3 L1364.9,1431.6 L1366.5,1430.8 L1367.9,1429.9 L1369.3,1428.9 L1370.6,1427.8 L1371.9,1426.6 L1373.1,1425.4 L1374.2,1424.1 L1375.2,1422.7 L1376.3,1421.3 L1377.2,1419.8 L1378.1,1418.2 L1379,1416.6 L1379.9,1415 L1380.7,1413.4 L1381.4,1411.7 L1382.2,1410 L1382.9,1408.3 L1383.6,1406.5 L1384.3,1404.8 L1385,1403.1 L1385.6,1401.4 L1386.3,1399.6 L1386.9,1397.9 L1387.5,1396.2 L1388.1,1394.5 L1388.7,1392.7 L1389.3,1391 L1389.9,1389.3 L1390.4,1387.6 L1391,1385.9 L1391.5,1384.1 L1392.1,1382.4 L1392.6,1380.7 L1393.1,1379 L1393.7,1377.3 L1394.2,1375.6 L1394.7,1373.9 L1395.2,1372.2 L1395.7,1370.4 L1396.2,1368.7 L1396.6,1367 L1397.1,1365.3 L1397.6,1363.6 L1398.1,1361.9 L1398.5,1360.2 L1399,1358.5 L1399.5,1356.8 L1399.9,1355.1 L1400.4,1353.4 L1400.9,1351.7 L1401.3,1350 L1401.8,1348.3 L1402.2,1346.6 L1402.7,1344.8 L1403.2,1343.1 L1403.6,1341.4 L1404.1,1339.7 L1404.6,1338 L1405.1,1336.3 L1405.5,1334.6 L1406,1332.9 L1406.5,1331.2 L1407,1329.5 L1407.5,1327.8 L1408,1326.1 L1408.5,1324.4 L1409,1322.7 L1409.5,1321 L1410,1319.3 L1410.6,1317.6 L1411.1,1315.9 L1411.6,1314.2 L1412.1,1312.5 L1412.7,1310.7 L1413.2,1309 L1413.7,1307.3 L1414.3,1305.6 L1414.8,1303.9 L1415.4,1302.2 L1415.9,1300.5 L1416.4,1298.8 L1417,1297.1 L1417.5,1295.4 L1418.1,1293.7 L1418.6,1291.9 L1419.2,1290.2 L1419.7,1288.5 L1420.3,1286.8 L1420.8,1285.1 L1421.4,1283.4 L1421.9,1281.7 L1422.4,1279.9 L1423,1278.2 L1423.5,1276.5 L1424.1,1274.8 L1424.6,1273.1 L1425.1,1271.4 L1425.6,1269.6 L1426.2,1267.9 L1426.7,1266.2 L1427.2,1264.5 L1427.7,1262.8 L1428.2,1261 L1428.7,1259.3 L1429.2,1257.6 L1429.7,1255.9 L1430.2,1254.1 L1430.7,1252.4 L1431.2,1250.7 L1431.7,1248.9 L1432.1,1247.2 L1432.6,1245.5 L1433.1,1243.8 L1433.5,1242 L1434,1240.3 L1434.5,1238.6 L1435,1236.9 L1435.5,1235.2 L1436,1233.5 L1436.6,1231.8 L1437.1,1230.1 L1437.7,1228.4 L1438.3,1226.7 L1439,1225.1 L1439.7,1223.4 L1440.4,1221.8 L1441.2,1220.2 L1442,1218.6 L1442.8,1217 L1443.7,1215.4 L1444.6,1213.8 L1445.6,1212.3 L1446.7,1210.7 L1447.8,1209.2 L1448.9,1207.8 L1450.2,1206.4 L1451.4,1205.1 L1452.8,1204 L1454.1,1203 L1455.6,1202.3 L1457.1,1201.8 L1458.6,1201.5 L1460.2,1201.5 L1461.8,1201.9 L1463.4,1202.4 L1465,1203.2 L1466.4,1204.1 L1467.8,1205.1 L1469.1,1206.3 L1470.3,1207.6 L1471.4,1209 L1472.5,1210.5 L1473.5,1212 L1474.4,1213.6 L1475.3,1215.3 L1476.2,1217 L1477,1218.8 L1477.8,1220.5 L1478.6,1222.3 L1479.4,1224 L1480.2,1225.7 L1481,1227.4 L1481.7,1229.1 L1482.5,1230.8 L1483.3,1232.4 L1484,1234 L1484.8,1235.6 L1485.5,1237.2 L1486.3,1238.8 L1487,1240.4 L1487.7,1242 L1488.4,1243.6 L1489.1,1245.2 L1489.8,1246.8 L1490.5,1248.4 L1491.1,1250 L1491.8,1251.6 L1492.4,1253.3 L1493.1,1254.9 L1493.7,1256.5 L1494.3,1258.2 L1494.9,1259.8 L1495.5,1261.5 L1496.1,1263.2 L1496.6,1264.8 L1497.2,1266.5 L1497.8,1268.2 L1498.3,1269.9 L1498.9,1271.6 L1499.4,1273.3 L1499.9,1275 L1500.5,1276.7 L1501,1278.4 L1501.5,1280.1 L1502,1281.8 L1502.5,1283.5 L1503,1285.2 L1503.5,1286.9 L1503.9,1288.7 L1504.4,1290.4 L1504.9,1292.1 L1505.4,1293.8 L1505.8,1295.6 L1506.3,1297.3 L1506.8,1299 L1507.2,1300.8 L1507.7,1302.5 L1508.1,1304.3 L1508.6,1306 L1509.1,1307.7 L1509.5,1309.5 L1510,1311.2 L1510.4,1313 L1510.9,1314.7 L1511.3,1316.5 L1511.8,1318.2 L1512.2,1320 L1512.7,1321.7 L1513.1,1323.4 L1513.6,1325.2 L1514.1,1326.9 L1514.5,1328.7 L1515,1330.4 L1515.5,1332.1 L1515.9,1333.9 L1516.4,1335.6 L1516.9,1337.4 L1517.4,1339.1 L1517.8,1340.8 L1518.3,1342.5 L1518.8,1344.3 L1519.3,1346 L1519.8,1347.7 L1520.3,1349.5 L1520.8,1351.2 L1521.3,1352.9 L1521.8,1354.6 L1522.3,1356.3 L1522.8,1358.1 L1523.3,1359.8 L1523.8,1361.5 L1524.3,1363.2 L1524.8,1364.9 L1525.3,1366.6 L1525.8,1368.3 L1526.3,1370.1 L1526.8,1371.8 L1527.4,1373.5 L1527.9,1375.2 L1528.4,1376.9 L1528.9,1378.6 L1529.4,1380.3 L1529.9,1382 L1530.5,1383.7 L1531,1385.4 L1531.5,1387.1 L1532,1388.8 L1532.5,1390.5 L1533,1392.2 L1533.6,1393.9 L1534.1,1395.6 L1534.6,1397.3 L1535.1,1399 L1535.6,1400.7 L1536.2,1402.4 L1536.7,1404.1 L1537.2,1405.8 L1537.7,1407.5 L1538.2,1409.2 L1538.8,1410.9 L1539.3,1412.6 L1539.8,1414.2 L1540.3,1415.9 L1540.8,1417.6 L1541.4,1419.3 L1541.9,1421 L1542.4,1422.7 L1542.9,1424.4 L1543.5,1426.1 L1544,1427.8 L1544.5,1429.4 L1545.1,1431.1 L1545.6,1432.8 L1546.2,1434.5 L1546.7,1436.2 L1547.3,1437.9 L1547.8,1439.6 L1548.4,1441.3 L1549,1442.9 L1549.6,1444.6 L1550.1,1446.3 L1550.7,1448 L1551.3,1449.7 L1551.9,1451.4 L1552.5,1453.1 L1553.2,1454.8 L1553.8,1456.4 L1554.4,1458.1 L1555.1,1459.8 L1555.7,1461.5 L1556.4,1463.2 L1557,1464.9 L1557.7,1466.6 L1558.4,1468.3 L1559.1,1470 L1559.8,1471.7 L1560.5,1473.3 L1561.2,1475 L1562,1476.7 L1562.7,1478.4 L1563.5,1480 L1564.3,1481.7 L1565.1,1483.3 L1565.9,1485 L1566.7,1486.6 L1567.5,1488.2 L1568.4,1489.8 L1569.3,1491.4 L1570.1,1493 L1571.1,1494.6 L1572,1496.1 L1572.9,1497.6 L1573.9,1499.2 L1574.9,1500.6 L1575.9,1502.1 L1576.9,1503.5 L1578,1505 L1579,1506.4 L1580.1,1507.7 L1581.3,1509.1 L1582.4,1510.4 L1583.6,1511.7 L1584.8,1512.9 L1586,1514.2 L1587.2,1515.4 L1588.5,1516.5 L1589.8,1517.7 L1591.2,1518.8 L1592.5,1519.8 L1593.9,1520.8 L1595.3,1521.8 L1596.8,1522.8 L1598.2,1523.7 L1599.8,1524.6 L1601.3,1525.4 L1602.9,1526.2 L1604.4,1526.9 L1606.1,1527.7 L1607.7,1528.4 L1609.4,1529 L1611,1529.7 L1612.7,1530.3 L1614.4,1530.8 L1616.2,1531.4 L1617.9,1531.9 L1619.7,1532.4 L1621.5,1532.9 L1623.2,1533.3 L1625,1533.8 L1626.8,1534.2 L1628.6,1534.6 L1630.4,1534.9 L1632.3,1535.3 L1634.1,1535.6 L1635.9,1536 L1637.7,1536.3 L1639.5,1536.6 L1641.4,1536.9 L1643.2,1537.2 L1645,1537.4 L1646.8,1537.7 L1648.6,1538 L1650.4,1538.2 L1652.1,1538.5 L1653.9,1538.7 L1655.7,1538.9 L1657.4,1539.2 L1659.2,1539.4 L1661,1539.6 L1662.7,1539.8 L1664.5,1540 L1666.2,1540.2 L1667.9,1540.3 L1669.7,1540.5 L1671.4,1540.7 L1673.2,1540.8 L1674.9,1540.9 L1676.7,1541.1 L1678.4,1541.2 L1680.2,1541.3 L1681.9,1541.3 L1683.7,1541.4 L1685.5,1541.5 L1687.2,1541.5 L1689,1541.5 L1690.8,1541.5 L1692.6,1541.5 L1694.4,1541.5 L1696.2,1541.5 L1698,1541.5 L1699.8,1541.5 L1701.6,1541.5 L1703.4,1541.5 L1705.2,1541.5 L1707,1541.5 L1708.8,1541.5 L1710.6,1541.5 L1712.4,1541.5 L1714.2,1541.5 L1715.9,1541.5 L1717.7,1541.5 L1719.5,1541.5 L1721.3,1541.5 L1723.1,1541.5 L1724.9,1541.5 L1726.7,1541.5 L1728.5,1541.5 L1730.3,1541.5 L1732.1,1541.5 L1733.9,1541.5 L1735.6,1541.5 L1737.4,1541.5 L1739.2,1541.5 L1741,1541.5 L1742.8,1541.5 L1744.6,1541.5 L1746.4,1541.5 L1748.2,1541.5 L1749.9,1541.5 L1751.7,1541.5 L1753.5,1541.5 L1755.3,1541.5 L1757.1,1541.5 L1758.9,1541.5 L1760.7,1541.5 L1762.4,1541.5 L1764.2,1541.5 L1766,1541.5 L1767.8,1541.5 L1769.6,1541.5 L1771.4,1541.5 L1773.1,1541.5 L1774.9,1541.5 L1776.7,1541.5 L1778.5,1541.5 L1780.3,1541.5 L1782.1,1541.5 L1783.9,1541.5 L1785.6,1541.5 L1787.4,1541.5 L1789.2,1541.5 L1791,1541.5 L1792.8,1541.5 L1794.6,1541.5 L1796.4,1541.5 L1798.1,1541.5 L1799.9,1541.5 L1801.7,1541.5 L1803.5,1541.5 L1805.3,1541.5 L1807.1,1541.5 L1808.9,1541.5 L1810.7,1541.5 L1812.4,1541.5 L1814.2,1541.5 L1816,1541.5 L1817.8,1541.5 L1819.6,1541.5 L1821.4,1541.5 L1823.2,1541.5 L1825,1541.5 L1826.7,1541.5 L1828.5,1541.5 L1830.3,1541.5 L1832.1,1541.5 L1833.9,1541.5 L1835.7,1541.5 L1837.5,1541.5 L1839.3,1541.5 L1841.1,1541.5 L1842.8,1541.5 L1844.6,1541.5 L1846.4,1541.5 L1848.2,1541.5 L1850,1541.5 L1851.8,1541.5 L1853.6,1541.5 L1855.4,1541.5 L1857.1,1541.5 L1858.9,1541.5 L1860.7,1541.5 L1862.5,1541.5 L1864.3,1541.5 L1866.1,1541.5 L1867.9,1541.5 L1869.7,1541.5 L1871.5,1541.5 L1873.2,1541.5 L1875,1541.5 L1876.8,1541.5 L1878.6,1541.5 L1880.4,1541.5 L1882.2,1541.5 L1884,1541.5 L1885.8,1541.5 L1887.5,1541.5 L1889.3,1541.5 L1891.1,1541.5 L1892.9,1541.5 L1894.7,1541.5 L1896.5,1541.5 L1898.3,1541.5 L1900.1,1541.5 L1901.8,1541.5 L1903.6,1541.5 L1905.4,1541.5 L1907.2,1541.5 L1909,1541.5 L1910.8,1541.5 L1912.6,1541.5 L1914.3,1541.5 L1916.1,1541.5 L1917.9,1541.5 L1919.7,1541.5 L1921.5,1541.5 L1923.3,1541.5 L1925.1,1541.5 L1926.8,1541.5 L1928.6,1541.5 L1930.4,1541.5 L1932.2,1541.5 L1934,1541.5" fill="none" stroke="#ff8000" stroke-width="7" stroke-linecap="round" stroke-linejoin="round"/>
<path d="M1156.5,1541.5 L1158.4,1541.5 L1160.4,1541.5 L1162.3,1541.5 L1164.2,1541.5 L1166.2,1541.5 L1168.1,1541.4 L1170,1541.4 L1172,1541.4 L1173.9,1541.4 L1175.8,1541.4 L1177.8,1541.4 L1179.7,1541.4 L1181.6,1541.5 L1183.6,1541.5 L1185.5,1541.5 L1187.5,1541.5 L1189.4,1541.5 L1191.3,1541.5 L1193.3,1541.5 L1195.2,1541.5 L1197.1,1541.5 L1199.1,1541.5 L1201,1541.5 L1203,1541.5 L1204.9,1541.5 L1206.8,1541.5 L1208.8,1541.5 L1210.7,1541.5 L1212.6,1541.5 L1214.6,1541.5 L1216.5,1541.5 L1218.4,1541.5 L1220.4,1541.5 L1222.3,1541.5 L1224.2,1541.5 L1226.1,1541.5 L1228.1,1541.4 L1230,1541.4 L1231.9,1541.3 L1233.8,1541.3 L1235.8,1541.3 L1237.7,1541.3 L1239.6,1541.2 L1241.6,1541.3 L1243.5,1541.3 L1245.5,1541.4 L1247.4,1541.5 L1249.4,1541.5 L1251.4,1541.5 L1253.3,1541.5 L1255.3,1541.5 L1257.2,1541.5 L1259.2,1541.5 L1261.1,1541.5 L1263,1541.5 L1264.9,1541.3 L1266.7,1540.8 L1268.5,1540.2 L1270.3,1539.5 L1272,1538.7 L1273.6,1537.8 L1275.2,1536.8 L1276.7,1535.6 L1278.1,1534.4 L1279.4,1533.1 L1280.7,1531.7 L1281.8,1530.3 L1283,1528.8 L1284.1,1527.2 L1285.1,1525.5 L1286.1,1523.9 L1287,1522.1 L1287.9,1520.4 L1288.8,1518.6 L1289.6,1516.8 L1290.5,1514.9 L1291.3,1513.1 L1292.1,1511.2 L1292.9,1509.4 L1293.7,1507.5 L1294.4,1505.7 L1295.2,1503.9 L1296.1,1502.1 L1296.9,1500.4 L1297.7,1498.6 L1298.5,1496.8 L1299.3,1495.1 L1300.1,1493.4 L1300.8,1491.6 L1301.6,1489.9 L1302.4,1488.2 L1303.1,1486.5 L1303.8,1484.7 L1304.6,1483 L1305.2,1481.2 L1305.9,1479.4 L1306.5,1477.6 L1307.1,1475.8 L1307.7,1474 L1308.2,1472.1 L1308.7,1470.2 L1309.1,1468.3 L1309.6,1466.4 L1310,1464.4 L1310.4,1462.5 L1310.8,1460.5 L1311.3,1458.6 L1311.9,1456.7 L1312.5,1454.9 L1313.3,1453.1 L1314.1,1451.3 L1314.9,1449.6 L1315.8,1447.9 L1316.7,1446.2 L1317.6,1444.5 L1318.4,1442.8 L1319.2,1441 L1319.9,1439.3 L1320.5,1437.5 L1321.1,1435.6 L1321.7,1433.8 L1322.2,1431.9 L1322.7,1430 L1323.1,1428.1 L1323.5,1426.2 L1323.9,1424.3 L1324.2,1422.4 L1324.6,1420.4 L1324.9,1418.5 L1325.2,1416.6 L1325.5,1414.6 L1325.9,1412.7 L1326.2,1410.8 L1326.5,1408.9 L1326.9,1407 L1327.2,1405.1 L1327.6,1403.2 L1328,1401.4 L1328.5,1399.5 L1328.9,1397.7 L1329.4,1395.9 L1329.9,1394.1 L1330.4,1392.2 L1331,1390.4 L1331.5,1388.5 L1332.1,1386.6 L1332.6,1384.7 L1333.2,1382.8 L1333.8,1380.9 L1334.5,1378.9 L1335.2,1377 L1335.9,1375.1 L1336.8,1373.3 L1337.7,1371.5 L1338.9,1369.9 L1340.2,1368.4 L1341.6,1367.2 L1343.2,1366.2 L1344.8,1365.7 L1346.5,1365.7 L1348.2,1366.3 L1349.8,1367.2 L1351.2,1368.5 L1352.6,1369.9 L1353.7,1371.5 L1354.7,1373.1 L1355.6,1374.9 L1356.4,1376.7 L1357.1,1378.6 L1357.8,1380.5 L1358.4,1382.4 L1359,1384.3 L1359.6,1386.2 L1360.2,1388.1 L1360.7,1390 L1361.3,1391.9 L1361.9,1393.8 L1362.4,1395.7 L1363,1397.5 L1363.5,1399.4 L1364,1401.3 L1364.6,1403.1 L1365.1,1405 L1365.6,1406.8 L1366.1,1408.7 L1366.7,1410.5 L1367.2,1412.4 L1367.7,1414.2 L1368.2,1416.1 L1368.8,1417.9 L1369.3,1419.8 L1369.8,1421.6 L1370.3,1423.4 L1370.8,1425.3 L1371.4,1427.1 L1371.9,1429 L1372.4,1430.8 L1372.9,1432.6 L1373.5,1434.5 L1374,1436.3 L1374.5,1438.1 L1375.1,1440 L1375.6,1441.8 L1376.1,1443.7 L1376.7,1445.5 L1377.2,1447.3 L1377.8,1449.2 L1378.3,1451 L1378.9,1452.9 L1379.5,1454.7 L1380,1456.6 L1380.6,1458.4 L1381.2,1460.3 L1381.8,1462.1 L1382.4,1464 L1383,1465.8 L1383.6,1467.7 L1384.2,1469.6 L1384.8,1471.4 L1385.5,1473.3 L1386.1,1475.2 L1386.8,1477.1 L1387.4,1478.9 L1388.1,1480.8 L1388.7,1482.7 L1389.4,1484.6 L1390.1,1486.5 L1390.8,1488.4 L1391.6,1490.3 L1392.4,1492.1 L1393.3,1493.7 L1394.4,1495.3 L1395.7,1496.6 L1397,1497.6 L1398.5,1498.2 L1400,1498 L1401.4,1497.3 L1402.9,1496.2 L1404.2,1494.8 L1405.4,1493.3 L1406.5,1491.8 L1407.5,1490.1 L1408.4,1488.4 L1409.2,1486.7 L1410,1484.9 L1410.6,1483.1 L1411.3,1481.2 L1411.8,1479.3 L1412.4,1477.4 L1412.9,1475.4 L1413.4,1473.5 L1413.8,1471.5 L1414.3,1469.6 L1414.7,1467.6 L1415.2,1465.7 L1415.7,1463.8 L1416.2,1461.9 L1416.8,1460 L1417.3,1458.2 L1417.8,1456.3 L1418.4,1454.5 L1418.9,1452.6 L1419.5,1450.8 L1420,1449 L1420.6,1447.2 L1421.1,1445.3 L1421.7,1443.5 L1422.2,1441.7 L1422.8,1439.9 L1423.3,1438 L1423.8,1436.2 L1424.3,1434.3 L1424.9,1432.5 L1425.4,1430.7 L1425.9,1428.8 L1426.4,1426.9 L1426.9,1425.1 L1427.4,1423.2 L1427.9,1421.4 L1428.4,1419.5 L1428.9,1417.6 L1429.4,1415.8 L1429.9,1413.9 L1430.4,1412 L1431,1410.2 L1431.5,1408.3 L1432,1406.4 L1432.6,1404.6 L1433.1,1402.7 L1433.7,1400.8 L1434.3,1399 L1434.8,1397.1 L1435.4,1395.3 L1436,1393.4 L1436.6,1391.6 L1437.3,1389.7 L1437.9,1387.9 L1438.6,1386 L1439.3,1384.2 L1440,1382.4 L1440.7,1380.5 L1441.4,1378.7 L1442.2,1376.9 L1443,1375.1 L1443.9,1373.4 L1444.9,1371.7 L1446.1,1370.1 L1447.4,1368.6 L1448.9,1367.2 L1450.5,1366 L1452.3,1365.1 L1454,1364.7 L1455.7,1364.8 L1457.3,1365.5 L1458.8,1366.5 L1460.3,1367.9 L1461.6,1369.3 L1462.8,1370.9 L1463.9,1372.5 L1465,1374.1 L1465.9,1375.7 L1466.8,1377.4 L1467.6,1379.2 L1468.4,1381 L1469.1,1382.8 L1469.7,1384.6 L1470.3,1386.4 L1470.9,1388.3 L1471.4,1390.2 L1471.9,1392.1 L1472.4,1394 L1472.9,1395.9 L1473.3,1397.8 L1473.8,1399.8 L1474.3,1401.7 L1474.7,1403.6 L1475.3,1405.5 L1475.8,1407.4 L1476.3,1409.3 L1476.9,1411.1 L1477.5,1413 L1478.1,1414.8 L1478.7,1416.7 L1479.3,1418.5 L1480,1420.3 L1480.6,1422.1 L1481.3,1423.9 L1482,1425.7 L1482.7,1427.5 L1483.3,1429.3 L1484,1431.1 L1484.7,1432.9 L1485.4,1434.7 L1486.1,1436.5 L1486.8,1438.3 L1487.4,1440 L1488.1,1441.8 L1488.7,1443.6 L1489.4,1445.4 L1490.1,1447.2 L1490.8,1448.9 L1491.6,1450.7 L1492.4,1452.5 L1493.4,1454.3 L1494.4,1456 L1495.6,1457.8 L1496.9,1459.5 L1498.4,1461.2 L1499.9,1462.6 L1501.4,1463.8 L1503,1464.4 L1504.5,1464.5 L1505.9,1464.1 L1507.3,1463.1 L1508.6,1461.8 L1509.9,1460.3 L1511.1,1458.6 L1512.3,1456.9 L1513.4,1455.2 L1514.5,1453.5 L1515.5,1451.7 L1516.5,1450 L1517.4,1448.2 L1518.3,1446.5 L1519.2,1444.7 L1520,1442.9 L1520.8,1441.1 L1521.6,1439.3 L1522.3,1437.5 L1523,1435.7 L1523.7,1433.9 L1524.3,1432.1 L1524.9,1430.3 L1525.5,1428.4 L1526.1,1426.6 L1526.7,1424.7 L1527.2,1422.9 L1527.7,1421 L1528.2,1419.2 L1528.7,1417.3 L1529.2,1415.4 L1529.7,1413.6 L1530.1,1411.7 L1530.6,1409.8 L1531,1408 L1531.5,1406.1 L1531.9,1404.2 L1532.3,1402.3 L1532.7,1400.4 L1533.2,1398.6 L1533.6,1396.7 L1534,1394.8 L1534.5,1392.9 L1534.9,1391 L1535.4,1389.2 L1535.8,1387.3 L1536.3,1385.4 L1536.8,1383.6 L1537.3,1381.7 L1537.8,1379.8 L1538.3,1378 L1538.8,1376.1 L1539.3,1374.2 L1539.9,1372.4 L1540.4,1370.5 L1541,1368.7 L1541.6,1366.8 L1542.1,1365 L1542.7,1363.1 L1543.3,1361.3 L1543.9,1359.4 L1544.5,1357.6 L1545.1,1355.8 L1545.8,1353.9 L1546.4,1352.1 L1547.1,1350.3 L1547.7,1348.4 L1548.4,1346.6 L1549,1344.8 L1549.7,1342.9 L1550.4,1341.1 L1551.1,1339.3 L1551.8,1337.5 L1552.6,1335.7 L1553.4,1333.9 L1554.3,1332.2 L1555.2,1330.5 L1556.2,1328.8 L1557.3,1327.2 L1558.5,1325.7 L1559.9,1324.2 L1561.3,1322.9 L1562.9,1321.6 L1564.6,1320.5 L1566.3,1319.6 L1568.1,1318.9 L1570,1318.6 L1571.8,1318.5 L1573.6,1318.8 L1575.4,1319.4 L1577.2,1320.2 L1578.9,1321.3 L1580.6,1322.4 L1582.3,1323.6 L1583.9,1324.9 L1585.4,1326.2 L1586.9,1327.6 L1588.4,1328.9 L1589.8,1330.3 L1591.2,1331.7 L1592.5,1333.1 L1593.8,1334.5 L1595.1,1336 L1596.3,1337.4 L1597.5,1338.9 L1598.7,1340.4 L1599.8,1342 L1601,1343.5 L1602.1,1345.1 L1603.2,1346.6 L1604.2,1348.2 L1605.2,1349.8 L1606.3,1351.5 L1607.3,1353.1 L1608.2,1354.7 L1609.2,1356.4 L1610.1,1358.1 L1611.1,1359.8 L1612,1361.5 L1612.9,1363.2 L1613.8,1364.9 L1614.7,1366.6 L1615.6,1368.3 L1616.4,1370.1 L1617.3,1371.8 L1618.1,1373.5 L1619,1375.3 L1619.8,1377.1 L1620.7,1378.8 L1621.5,1380.6 L1622.3,1382.3 L1623.1,1384.1 L1624,1385.9 L1624.8,1387.6 L1625.6,1389.4 L1626.5,1391.1 L1627.3,1392.9 L1628.2,1394.7 L1629,1396.4 L1629.9,1398.2 L1630.7,1399.9 L1631.6,1401.6 L1632.5,1403.4 L1633.4,1405.1 L1634.3,1406.8 L1635.2,1408.5 L1636.1,1410.2 L1637.1,1411.9 L1638,1413.6 L1639,1415.2 L1640,1416.9 L1641,1418.5 L1642,1420.2 L1643.1,1421.8 L1644.1,1423.4 L1645.2,1425 L1646.2,1426.6 L1647.3,1428.3 L1648.3,1429.9 L1649.3,1431.5 L1650.4,1433.1 L1651.4,1434.8 L1652.4,1436.4 L1653.4,1438 L1654.4,1439.7 L1655.4,1441.4 L1656.3,1443.1 L1657.3,1444.8 L1658.2,1446.5 L1659.1,1448.2 L1660,1449.9 L1661,1451.6 L1661.9,1453.3 L1662.9,1455 L1663.8,1456.7 L1664.8,1458.3 L1665.8,1460 L1666.9,1461.6 L1667.9,1463.2 L1669,1464.9 L1670.1,1466.5 L1671.2,1468 L1672.3,1469.6 L1673.5,1471.1 L1674.7,1472.7 L1675.9,1474.2 L1677.1,1475.7 L1678.4,1477.2 L1679.6,1478.6 L1680.9,1480.1 L1682.2,1481.5 L1683.5,1482.9 L1684.8,1484.3 L1686.2,1485.7 L1687.6,1487.1 L1688.9,1488.4 L1690.3,1489.8 L1691.8,1491.1 L1693.2,1492.4 L1694.7,1493.7 L1696.1,1494.9 L1697.6,1496.2 L1699.1,1497.4 L1700.6,1498.6 L1702.2,1499.8 L1703.7,1501 L1705.3,1502.1 L1706.8,1503.3 L1708.4,1504.4 L1710,1505.5 L1711.6,1506.5 L1713.2,1507.6 L1714.9,1508.6 L1716.5,1509.6 L1718.2,1510.6 L1719.9,1511.6 L1721.5,1512.6 L1723.2,1513.5 L1724.9,1514.4 L1726.6,1515.3 L1728.4,1516.2 L1730.1,1517.1 L1731.8,1517.9 L1733.6,1518.7 L1735.4,1519.5 L1737.1,1520.3 L1738.9,1521 L1740.7,1521.8 L1742.5,1522.5 L1744.3,1523.2 L1746.1,1523.9 L1747.9,1524.5 L1749.7,1525.1 L1751.5,1525.7 L1753.4,1526.3 L1755.2,1526.9 L1757.1,1527.5 L1758.9,1528 L1760.8,1528.5 L1762.6,1529 L1764.5,1529.5 L1766.4,1530 L1768.2,1530.4 L1770.1,1530.9 L1772,1531.3 L1773.9,1531.7 L1775.8,1532.1 L1777.7,1532.5 L1779.6,1532.9 L1781.5,1533.2 L1783.4,1533.6 L1785.3,1533.9 L1787.2,1534.2 L1789.2,1534.5 L1791.1,1534.8 L1793,1535.1 L1794.9,1535.4 L1796.8,1535.7 L1798.8,1535.9 L1800.7,1536.2 L1802.6,1536.4 L1804.6,1536.6 L1806.5,1536.9 L1808.4,1537.1 L1810.4,1537.3 L1812.3,1537.5 L1814.2,1537.7 L1816.1,1537.9 L1818.1,1538 L1820,1538.2 L1821.9,1538.4 L1823.9,1538.5 L1825.8,1538.7 L1827.7,1538.9 L1829.7,1539 L1831.6,1539.1 L1833.5,1539.3 L1835.5,1539.4 L1837.4,1539.5 L1839.3,1539.7 L1841.2,1539.8 L1843.2,1539.9 L1845.1,1540 L1847,1540.1 L1849,1540.2 L1850.9,1540.3 L1852.8,1540.4 L1854.7,1540.5 L1856.7,1540.5 L1858.6,1540.6 L1860.5,1540.7 L1862.5,1540.8 L1864.4,1540.8 L1866.3,1540.9 L1868.2,1541 L1870.2,1541 L1872.1,1541.1 L1874,1541.1 L1876,1541.1 L1877.9,1541.2 L1879.8,1541.2 L1881.8,1541.3 L1883.7,1541.3 L1885.6,1541.3 L1887.6,1541.4 L1889.5,1541.4 L1891.4,1541.4 L1893.4,1541.4 L1895.3,1541.4 L1897.2,1541.5 L1899.2,1541.5 L1901.1,1541.5 L1903,1541.5 L1905,1541.5 L1906.9,1541.5 L1908.8,1541.5 L1910.8,1541.5 L1912.7,1541.5 L1914.6,1541.5 L1916.6,1541.5 L1918.5,1541.5 L1920.4,1541.5 L1922.4,1541.5 L1924.3,1541.5 L1926.3,1541.5 L1928.2,1541.5 L1930.1,1541.5 L1932.1,1541.5" fill="none" stroke="#c0c000" stroke-width="7" stroke-linecap="round" stroke-linejoin="round"/>
<path d="M1156.5,1541.5 L1158.3,1541.5 L1160.2,1541.5 L1162,1541.5 L1163.8,1541.5 L1165.6,1541.5 L1167.5,1541.5 L1169.3,1541.5 L1171.1,1541.5 L1173,1541.5 L1174.8,1541.5 L1176.6,1541.5 L1178.4,1541.5 L1180.3,1541.5 L1182.1,1541.5 L1183.9,1541.5 L1185.8,1541.5 L1187.6,1541.5 L1189.4,1541.5 L1191.3,1541.5 L1193.1,1541.5 L1194.9,1541.5 L1196.7,1541.5 L1198.6,1541.5 L1200.4,1541.5 L1202.2,1541.5 L1204.1,1541.5 L1205.9,1541.5 L1207.7,1541.5 L1209.6,1541.5 L1211.4,1541.5 L1213.2,1541.5 L1215.1,1541.5 L1216.9,1541.5 L1218.7,1541.5 L1220.5,1541.5 L1222.4,1541.5 L1224.2,1541.5 L1226,1541.5 L1227.8,1541.5 L1229.7,1541.5 L1231.5,1541.5 L1233.3,1541.4 L1235.1,1541.4 L1237,1541.4 L1238.8,1541.4 L1240.6,1541.3 L1242.4,1541.3 L1244.3,1541.3 L1246.1,1541.3 L1247.9,1541.3 L1249.8,1541.4 L1251.6,1541.4 L1253.4,1541.5 L1255.3,1541.5 L1257.2,1541.5 L1259,1541.5 L1260.9,1541.5 L1262.7,1541.5 L1264.5,1541.5 L1266.3,1541.5 L1268.1,1541.5 L1269.9,1541.3 L1271.7,1540.8 L1273.4,1540.3 L1275.1,1539.6 L1276.7,1538.8 L1278.3,1537.9 L1279.8,1536.9 L1281.3,1535.8 L1282.6,1534.7 L1283.9,1533.4 L1285.1,1532 L1286.1,1530.6 L1287.1,1529.1 L1288,1527.5 L1288.7,1525.9 L1289.4,1524.2 L1290,1522.4 L1290.6,1520.7 L1291.1,1518.9 L1291.5,1517 L1292,1515.2 L1292.4,1513.3 L1292.8,1511.5 L1293.2,1509.6 L1293.6,1507.8 L1294.1,1506 L1294.5,1504.2 L1295,1502.5 L1295.6,1500.7 L1296.1,1499 L1296.6,1497.3 L1297.2,1495.6 L1297.7,1493.9 L1298.2,1492.2 L1298.7,1490.4 L1299.2,1488.7 L1299.7,1486.9 L1300.1,1485.2 L1300.6,1483.4 L1301,1481.6 L1301.5,1479.9 L1301.9,1478.1 L1302.3,1476.3 L1302.7,1474.5 L1303.1,1472.7 L1303.5,1470.9 L1303.9,1469.1 L1304.3,1467.3 L1304.7,1465.5 L1305,1463.7 L1305.4,1461.9 L1305.8,1460.1 L1306.1,1458.3 L1306.5,1456.4 L1306.8,1454.7 L1307.2,1452.9 L1307.5,1451.1 L1307.9,1449.3 L1308.2,1447.5 L1308.6,1445.7 L1308.9,1443.9 L1309.2,1442.1 L1309.6,1440.3 L1309.9,1438.6 L1310.3,1436.8 L1310.6,1435 L1310.9,1433.2 L1311.3,1431.4 L1311.6,1429.7 L1312,1427.9 L1312.3,1426.1 L1312.7,1424.3 L1313,1422.6 L1313.4,1420.8 L1313.7,1419 L1314.1,1417.2 L1314.5,1415.4 L1314.9,1413.7 L1315.2,1411.9 L1315.6,1410.1 L1316,1408.3 L1316.4,1406.5 L1316.8,1404.7 L1317.2,1403 L1317.6,1401.2 L1318.1,1399.4 L1318.5,1397.6 L1318.9,1395.8 L1319.4,1394 L1319.9,1392.2 L1320.3,1390.4 L1320.8,1388.6 L1321.3,1386.8 L1321.8,1385 L1322.3,1383.1 L1322.8,1381.3 L1323.3,1379.5 L1323.9,1377.7 L1324.5,1375.9 L1325.1,1374.1 L1325.8,1372.3 L1326.5,1370.7 L1327.4,1369.1 L1328.4,1367.5 L1329.5,1366.1 L1330.7,1364.8 L1332.1,1363.7 L1333.6,1362.9 L1335.1,1362.4 L1336.7,1362.3 L1338.4,1362.6 L1340,1363.2 L1341.6,1364.1 L1343.1,1365.2 L1344.5,1366.5 L1345.7,1367.9 L1346.9,1369.4 L1348,1370.9 L1348.9,1372.6 L1349.8,1374.3 L1350.7,1376 L1351.4,1377.8 L1352.1,1379.5 L1352.8,1381.3 L1353.5,1383.1 L1354.1,1384.8 L1354.6,1386.6 L1355.2,1388.3 L1355.7,1390.1 L1356.2,1391.8 L1356.7,1393.6 L1357.2,1395.3 L1357.7,1397 L1358.2,1398.8 L1358.6,1400.5 L1359.1,1402.2 L1359.6,1404 L1360.1,1405.7 L1360.5,1407.4 L1361,1409.2 L1361.6,1410.9 L1362.1,1412.6 L1362.6,1414.4 L1363.1,1416.1 L1363.7,1417.9 L1364.2,1419.6 L1364.8,1421.4 L1365.3,1423.1 L1365.9,1424.9 L1366.4,1426.6 L1367,1428.4 L1367.6,1430.1 L1368.2,1431.9 L1368.8,1433.7 L1369.5,1435.4 L1370.2,1437.1 L1370.9,1438.8 L1371.8,1440.5 L1372.7,1442.1 L1373.8,1443.7 L1375,1445.1 L1376.4,1446.6 L1377.8,1447.9 L1379.4,1449.1 L1381.1,1450 L1382.8,1450.6 L1384.4,1450.9 L1386,1450.7 L1387.5,1450.2 L1388.9,1449.3 L1390.3,1448.2 L1391.6,1446.8 L1392.9,1445.4 L1394.1,1443.9 L1395.2,1442.4 L1396.3,1440.9 L1397.4,1439.3 L1398.4,1437.8 L1399.4,1436.2 L1400.3,1434.6 L1401.2,1433 L1402,1431.3 L1402.8,1429.7 L1403.6,1428 L1404.4,1426.4 L1405.1,1424.7 L1405.8,1423 L1406.4,1421.3 L1407,1419.5 L1407.7,1417.8 L1408.2,1416.1 L1408.8,1414.3 L1409.4,1412.6 L1409.9,1410.8 L1410.4,1409.1 L1410.9,1407.3 L1411.4,1405.5 L1411.9,1403.8 L1412.4,1402 L1412.9,1400.2 L1413.3,1398.4 L1413.8,1396.7 L1414.3,1394.9 L1414.7,1393.1 L1415.2,1391.4 L1415.7,1389.6 L1416.2,1387.8 L1416.7,1386.1 L1417.2,1384.3 L1417.7,1382.6 L1418.3,1380.9 L1418.8,1379.2 L1419.4,1377.4 L1420,1375.7 L1420.6,1374 L1421.2,1372.3 L1421.8,1370.6 L1422.4,1368.9 L1423,1367.2 L1423.7,1365.5 L1424.3,1363.8 L1424.9,1362.1 L1425.5,1360.3 L1426.1,1358.6 L1426.7,1356.8 L1427.3,1355 L1427.9,1353.2 L1428.4,1351.3 L1429,1349.5 L1429.7,1347.8 L1430.4,1346 L1431.2,1344.3 L1432.1,1342.7 L1433.2,1341.2 L1434.4,1339.8 L1435.7,1338.6 L1437.2,1337.5 L1438.8,1336.7 L1440.5,1336.1 L1442.3,1335.8 L1444,1335.9 L1445.7,1336.4 L1447.4,1337.1 L1449,1338.1 L1450.5,1339.2 L1451.8,1340.5 L1453.1,1341.9 L1454.2,1343.3 L1455.3,1344.9 L1456.2,1346.5 L1457.1,1348.1 L1457.9,1349.8 L1458.7,1351.5 L1459.4,1353.3 L1460.1,1355 L1460.8,1356.7 L1461.5,1358.5 L1462.1,1360.2 L1462.8,1361.9 L1463.4,1363.6 L1464.1,1365.4 L1464.7,1367.1 L1465.3,1368.8 L1465.9,1370.5 L1466.6,1372.2 L1467.1,1373.9 L1467.7,1375.6 L1468.3,1377.4 L1468.9,1379.1 L1469.5,1380.8 L1470,1382.5 L1470.6,1384.2 L1471.2,1385.9 L1471.7,1387.6 L1472.3,1389.4 L1472.9,1391.1 L1473.4,1392.8 L1474,1394.5 L1474.6,1396.2 L1475.3,1397.9 L1475.9,1399.6 L1476.5,1401.4 L1477.2,1403.1 L1477.9,1404.8 L1478.6,1406.5 L1479.3,1408.2 L1480.1,1409.9 L1480.9,1411.6 L1481.7,1413.3 L1482.5,1415 L1483.4,1416.6 L1484.3,1418.3 L1485.3,1420 L1486.3,1421.7 L1487.3,1423.3 L1488.4,1424.9 L1489.6,1426.4 L1490.8,1427.6 L1492.1,1428.5 L1493.4,1428.9 L1494.8,1428.9 L1496.3,1428.4 L1497.9,1427.6 L1499.4,1426.4 L1500.9,1425 L1502.4,1423.5 L1503.8,1421.9 L1505.1,1420.4 L1506.3,1418.9 L1507.4,1417.3 L1508.5,1415.8 L1509.5,1414.2 L1510.4,1412.6 L1511.2,1411 L1512,1409.4 L1512.7,1407.8 L1513.4,1406.1 L1514,1404.5 L1514.5,1402.7 L1515,1401 L1515.5,1399.2 L1515.9,1397.4 L1516.4,1395.6 L1516.8,1393.8 L1517.2,1392 L1517.6,1390.2 L1518.1,1388.5 L1518.5,1386.7 L1519,1384.9 L1519.5,1383.2 L1520,1381.4 L1520.6,1379.7 L1521.1,1378 L1521.7,1376.2 L1522.2,1374.5 L1522.8,1372.8 L1523.4,1371.1 L1524,1369.4 L1524.7,1367.7 L1525.3,1366 L1525.9,1364.3 L1526.6,1362.6 L1527.2,1360.9 L1527.9,1359.2 L1528.6,1357.5 L1529.2,1355.8 L1529.9,1354.1 L1530.6,1352.4 L1531.3,1350.7 L1532,1349 L1532.7,1347.3 L1533.4,1345.5 L1534.1,1343.8 L1534.8,1342.1 L1535.5,1340.3 L1536.2,1338.6 L1536.9,1336.9 L1537.7,1335.1 L1538.5,1333.5 L1539.4,1331.9 L1540.4,1330.4 L1541.6,1328.9 L1542.8,1327.6 L1544.2,1326.4 L1545.8,1325.4 L1547.4,1324.5 L1549.1,1324 L1550.8,1323.7 L1552.6,1323.8 L1554.3,1324.2 L1556,1324.9 L1557.7,1325.7 L1559.3,1326.8 L1560.9,1327.9 L1562.3,1329.1 L1563.7,1330.4 L1565,1331.8 L1566.2,1333.2 L1567.3,1334.6 L1568.4,1336.1 L1569.5,1337.6 L1570.5,1339.1 L1571.5,1340.7 L1572.4,1342.2 L1573.4,1343.8 L1574.3,1345.3 L1575.2,1346.9 L1576.2,1348.5 L1577.1,1350.1 L1577.9,1351.7 L1578.8,1353.3 L1579.7,1354.9 L1580.5,1356.5 L1581.4,1358.1 L1582.2,1359.8 L1583,1361.4 L1583.8,1363 L1584.6,1364.7 L1585.4,1366.3 L1586.2,1368 L1586.9,1369.6 L1587.7,1371.3 L1588.5,1373 L1589.2,1374.6 L1590,1376.3 L1590.7,1378 L1591.5,1379.7 L1592.2,1381.3 L1592.9,1383 L1593.6,1384.7 L1594.4,1386.4 L1595.1,1388.1 L1595.8,1389.7 L1596.5,1391.4 L1597.2,1393.1 L1597.9,1394.8 L1598.7,1396.5 L1599.4,1398.2 L1600.1,1399.9 L1600.8,1401.6 L1601.5,1403.2 L1602.2,1404.9 L1603,1406.6 L1603.7,1408.3 L1604.4,1410 L1605.1,1411.7 L1605.9,1413.3 L1606.6,1415 L1607.4,1416.7 L1608.1,1418.4 L1608.9,1420 L1609.6,1421.7 L1610.4,1423.3 L1611.2,1425 L1612,1426.7 L1612.8,1428.3 L1613.6,1429.9 L1614.4,1431.6 L1615.2,1433.2 L1616,1434.9 L1616.8,1436.5 L1617.7,1438.1 L1618.5,1439.7 L1619.4,1441.3 L1620.2,1443 L1621.1,1444.6 L1621.9,1446.2 L1622.8,1447.8 L1623.7,1449.4 L1624.6,1450.9 L1625.5,1452.5 L1626.5,1454.1 L1627.4,1455.7 L1628.3,1457.2 L1629.3,1458.8 L1630.2,1460.3 L1631.2,1461.9 L1632.2,1463.4 L1633.2,1464.9 L1634.2,1466.4 L1635.2,1468 L1636.2,1469.5 L1637.2,1471 L1638.3,1472.5 L1639.3,1474 L1640.4,1475.4 L1641.5,1476.9 L1642.6,1478.4 L1643.7,1479.8 L1644.8,1481.3 L1645.9,1482.7 L1647.1,1484.1 L1648.2,1485.6 L1649.4,1487 L1650.6,1488.4 L1651.8,1489.8 L1653,1491.2 L1654.2,1492.5 L1655.4,1493.9 L1656.7,1495.3 L1657.9,1496.6 L1659.2,1497.9 L1660.5,1499.3 L1661.8,1500.6 L1663.1,1501.8 L1664.5,1503.1 L1665.8,1504.4 L1667.2,1505.6 L1668.6,1506.8 L1670,1508 L1671.4,1509.2 L1672.8,1510.3 L1674.2,1511.5 L1675.7,1512.6 L1677.2,1513.6 L1678.7,1514.7 L1680.2,1515.7 L1681.7,1516.7 L1683.2,1517.7 L1684.8,1518.6 L1686.4,1519.5 L1687.9,1520.4 L1689.5,1521.3 L1691.2,1522.1 L1692.8,1522.9 L1694.5,1523.6 L1696.1,1524.3 L1697.8,1525 L1699.5,1525.7 L1701.2,1526.3 L1702.9,1526.9 L1704.7,1527.5 L1706.4,1528 L1708.1,1528.6 L1709.9,1529.1 L1711.7,1529.6 L1713.4,1530 L1715.2,1530.5 L1717,1530.9 L1718.8,1531.4 L1720.6,1531.8 L1722.4,1532.2 L1724.2,1532.5 L1726,1532.9 L1727.8,1533.3 L1729.6,1533.6 L1731.4,1534 L1733.2,1534.3 L1735,1534.6 L1736.8,1534.9 L1738.6,1535.2 L1740.4,1535.5 L1742.2,1535.8 L1744,1536.1 L1745.9,1536.3 L1747.7,1536.6 L1749.5,1536.8 L1751.3,1537.1 L1753.1,1537.3 L1754.9,1537.6 L1756.7,1537.8 L1758.6,1538 L1760.4,1538.2 L1762.2,1538.4 L1764,1538.6 L1765.8,1538.8 L1767.6,1538.9 L1769.5,1539.1 L1771.3,1539.3 L1773.1,1539.4 L1774.9,1539.6 L1776.7,1539.7 L1778.6,1539.8 L1780.4,1540 L1782.2,1540.1 L1784,1540.2 L1785.8,1540.3 L1787.7,1540.4 L1789.5,1540.5 L1791.3,1540.6 L1793.1,1540.7 L1795,1540.8 L1796.8,1540.9 L1798.6,1541 L1800.4,1541 L1802.3,1541.1 L1804.1,1541.2 L1805.9,1541.2 L1807.8,1541.3 L1809.6,1541.3 L1811.4,1541.4 L1813.2,1541.4 L1815.1,1541.5 L1816.9,1541.5 L1818.7,1541.5 L1820.6,1541.5 L1822.4,1541.5 L1824.2,1541.5 L1826,1541.5 L1827.9,1541.5 L1829.7,1541.5 L1831.5,1541.5 L1833.4,1541.5 L1835.2,1541.5 L1837,1541.5 L1838.9,1541.5 L1840.7,1541.5 L1842.5,1541.5 L1844.3,1541.5 L1846.2,1541.5 L1848,1541.5 L1849.8,1541.5 L1851.7,1541.5 L1853.5,1541.5 L1855.3,1541.5 L1857.2,1541.5 L1859,1541.5 L1860.8,1541.5 L1862.7,1541.5 L1864.5,1541.5 L1866.3,1541.5 L1868.2,1541.5 L1870,1541.5 L1871.8,1541.4 L1873.6,1541.4 L1875.5,1541.4 L1877.3,1541.4 L1879.1,1541.4 L1881,1541.4 L1882.8,1541.4 L1884.6,1541.3 L1886.5,1541.3 L1888.3,1541.3 L1890.1,1541.3 L1892,1541.3 L1893.8,1541.3 L1895.6,1541.3 L1897.4,1541.3 L1899.3,1541.3 L1901.1,1541.3 L1902.9,1541.3 L1904.8,1541.3 L1906.6,1541.3 L1908.4,1541.3 L1910.2,1541.3 L1912.1,1541.3 L1913.9,1541.4 L1915.7,1541.4 L1917.5,1541.4 L1919.4,1541.4 L1921.2,1541.5 L1923,1541.5 L1924.8,1541.5 L1926.7,1541.5 L1928.5,1541.5 L1930.3,1541.5 L1932.1,1541.5 L1934,1541.5" fill="none" stroke="#008000" stroke-width="7" stroke-linecap="round" stroke-linejoin="round"/>
<path d="M1156.5,1541.5 L1158.3,1541.5 L1160.1,1541.5 L1162,1541.5 L1163.8,1541.5 L1165.6,1541.5 L1167.4,1541.5 L1169.2,1541.5 L1171,1541.5 L1172.8,1541.5 L1174.7,1541.5 L1176.5,1541.5 L1178.3,1541.5 L1180.1,1541.5 L1181.9,1541.5 L1183.8,1541.5 L1185.6,1541.5 L1187.4,1541.5 L1189.2,1541.5 L1191,1541.5 L1192.8,1541.5 L1194.7,1541.5 L1196.5,1541.5 L1198.3,1541.5 L1200.1,1541.5 L1201.9,1541.5 L1203.8,1541.5 L1205.6,1541.5 L1207.4,1541.5 L1209.2,1541.5 L1211,1541.5 L1212.9,1541.5 L1214.7,1541.5 L1216.5,1541.5 L1218.3,1541.5 L1220.1,1541.5 L1221.9,1541.5 L1223.8,1541.5 L1225.6,1541.5 L1227.4,1541.5 L1229.2,1541.5 L1231,1541.5 L1232.8,1541.5 L1234.7,1541.5 L1236.5,1541.5 L1238.3,1541.5 L1240.1,1541.5 L1241.9,1541.5 L1243.7,1541.5 L1245.5,1541.5 L1247.3,1541.5 L1249.2,1541.5 L1251,1541.5 L1252.8,1541.5 L1254.6,1541.5 L1256.4,1541.5 L1258.2,1541.5 L1260.1,1541.5 L1261.9,1541.5 L1263.8,1541.5 L1265.6,1541.5 L1267.4,1541.5 L1269.3,1541.5 L1271.1,1541.4 L1272.9,1541.3 L1274.7,1541.1 L1276.5,1540.8 L1278.2,1540.4 L1279.9,1539.9 L1281.5,1539.2 L1283.1,1538.5 L1284.7,1537.6 L1286.2,1536.6 L1287.6,1535.5 L1289,1534.4 L1290.4,1533.2 L1291.7,1531.9 L1293,1530.5 L1294.3,1529.1 L1295.5,1527.7 L1296.6,1526.3 L1297.7,1524.8 L1298.8,1523.3 L1299.9,1521.8 L1300.9,1520.3 L1301.9,1518.8 L1302.9,1517.2 L1303.8,1515.7 L1304.7,1514.1 L1305.6,1512.5 L1306.5,1511 L1307.3,1509.4 L1308.2,1507.8 L1309,1506.1 L1309.8,1504.5 L1310.6,1502.9 L1311.4,1501.3 L1312.2,1499.6 L1313,1498 L1313.8,1496.4 L1314.5,1494.7 L1315.3,1493.1 L1316.1,1491.5 L1316.9,1489.9 L1317.7,1488.2 L1318.5,1486.6 L1319.3,1485 L1320.1,1483.3 L1321,1481.7 L1321.8,1480.1 L1322.6,1478.4 L1323.4,1476.8 L1324.2,1475.2 L1325,1473.6 L1325.8,1471.9 L1326.6,1470.3 L1327.4,1468.7 L1328.2,1467 L1329,1465.4 L1329.8,1463.8 L1330.6,1462.1 L1331.4,1460.5 L1332.2,1458.9 L1333,1457.2 L1333.8,1455.6 L1334.5,1453.9 L1335.3,1452.3 L1336.1,1450.6 L1336.8,1449 L1337.5,1447.3 L1338.3,1445.7 L1339,1444 L1339.7,1442.3 L1340.4,1440.7 L1341.1,1439 L1341.8,1437.3 L1342.5,1435.6 L1343.2,1433.9 L1343.8,1432.3 L1344.5,1430.6 L1345.1,1428.9 L1345.7,1427.2 L1346.4,1425.5 L1347,1423.8 L1347.6,1422.1 L1348.2,1420.4 L1348.8,1418.7 L1349.4,1416.9 L1350,1415.2 L1350.5,1413.5 L1351.1,1411.8 L1351.7,1410.1 L1352.2,1408.3 L1352.8,1406.6 L1353.3,1404.9 L1353.9,1403.2 L1354.4,1401.4 L1354.9,1399.7 L1355.5,1397.9 L1356,1396.2 L1356.5,1394.5 L1357,1392.7 L1357.5,1391 L1358,1389.2 L1358.5,1387.5 L1359,1385.7 L1359.5,1384 L1360,1382.2 L1360.5,1380.5 L1361,1378.7 L1361.5,1377 L1361.9,1375.2 L1362.4,1373.5 L1362.9,1371.7 L1363.4,1370 L1363.8,1368.2 L1364.3,1366.4 L1364.8,1364.7 L1365.2,1362.9 L1365.7,1361.2 L1366.2,1359.4 L1366.6,1357.6 L1367.1,1355.9 L1367.6,1354.1 L1368,1352.4 L1368.5,1350.6 L1369,1348.8 L1369.4,1347.1 L1369.9,1345.3 L1370.4,1343.5 L1370.8,1341.8 L1371.3,1340 L1371.8,1338.3 L1372.2,1336.5 L1372.7,1334.7 L1373.2,1333 L1373.7,1331.2 L1374.1,1329.5 L1374.6,1327.7 L1375.1,1325.9 L1375.6,1324.2 L1376.1,1322.4 L1376.5,1320.7 L1377,1318.9 L1377.5,1317.1 L1378,1315.4 L1378.5,1313.6 L1379,1311.9 L1379.5,1310.1 L1379.9,1308.4 L1380.4,1306.6 L1380.9,1304.9 L1381.4,1303.1 L1381.9,1301.4 L1382.4,1299.6 L1382.9,1297.9 L1383.4,1296.1 L1383.9,1294.3 L1384.4,1292.6 L1384.8,1290.8 L1385.3,1289.1 L1385.8,1287.3 L1386.3,1285.6 L1386.8,1283.9 L1387.3,1282.1 L1387.8,1280.4 L1388.3,1278.6 L1388.8,1276.9 L1389.3,1275.1 L1389.8,1273.4 L1390.3,1271.6 L1390.7,1269.9 L1391.2,1268.1 L1391.7,1266.4 L1392.2,1264.7 L1392.7,1262.9 L1393.2,1261.2 L1393.7,1259.4 L1394.2,1257.7 L1394.7,1256 L1395.1,1254.2 L1395.6,1252.5 L1396.1,1250.7 L1396.6,1249 L1397.1,1247.3 L1397.6,1245.5 L1398,1243.8 L1398.5,1242.1 L1399,1240.3 L1399.5,1238.6 L1400,1236.9 L1400.5,1235.1 L1401,1233.4 L1401.5,1231.7 L1402,1229.9 L1402.5,1228.2 L1403,1226.5 L1403.6,1224.7 L1404.1,1223 L1404.6,1221.3 L1405.2,1219.5 L1405.7,1217.8 L1406.3,1216.1 L1406.9,1214.3 L1407.4,1212.6 L1408,1210.8 L1408.6,1209.1 L1409.2,1207.4 L1409.9,1205.6 L1410.5,1203.9 L1411.2,1202.1 L1411.8,1200.4 L1412.5,1198.7 L1413.2,1196.9 L1413.9,1195.2 L1414.7,1193.5 L1415.5,1191.8 L1416.3,1190.1 L1417.2,1188.5 L1418.1,1187 L1419.1,1185.5 L1420.2,1184 L1421.4,1182.6 L1422.6,1181.4 L1424,1180.2 L1425.4,1179.1 L1427,1178.1 L1428.6,1177.2 L1430.3,1176.4 L1432,1175.8 L1433.7,1175.3 L1435.5,1175 L1437.2,1174.9 L1438.9,1175 L1440.6,1175.2 L1442.2,1175.7 L1443.7,1176.4 L1445.2,1177.3 L1446.6,1178.3 L1447.9,1179.6 L1449.2,1180.9 L1450.4,1182.3 L1451.5,1183.8 L1452.6,1185.4 L1453.7,1187 L1454.7,1188.7 L1455.6,1190.3 L1456.5,1191.9 L1457.4,1193.6 L1458.3,1195.2 L1459.1,1196.9 L1459.8,1198.6 L1460.6,1200.2 L1461.3,1201.9 L1462,1203.6 L1462.6,1205.3 L1463.3,1207 L1463.9,1208.7 L1464.5,1210.4 L1465.1,1212.1 L1465.6,1213.8 L1466.2,1215.5 L1466.7,1217.2 L1467.3,1218.9 L1467.8,1220.6 L1468.3,1222.3 L1468.8,1224.1 L1469.4,1225.8 L1469.9,1227.5 L1470.4,1229.3 L1470.9,1231 L1471.4,1232.7 L1471.9,1234.5 L1472.4,1236.2 L1472.9,1237.9 L1473.4,1239.7 L1473.9,1241.4 L1474.4,1243.2 L1474.9,1244.9 L1475.4,1246.7 L1475.9,1248.4 L1476.4,1250.2 L1476.9,1251.9 L1477.4,1253.7 L1477.9,1255.4 L1478.4,1257.2 L1478.9,1258.9 L1479.4,1260.7 L1479.9,1262.4 L1480.3,1264.2 L1480.8,1265.9 L1481.3,1267.7 L1481.8,1269.4 L1482.3,1271.2 L1482.8,1272.9 L1483.3,1274.7 L1483.7,1276.5 L1484.2,1278.2 L1484.7,1280 L1485.2,1281.7 L1485.7,1283.5 L1486.2,1285.2 L1486.7,1287 L1487.1,1288.7 L1487.6,1290.5 L1488.1,1292.2 L1488.6,1294 L1489.1,1295.7 L1489.6,1297.5 L1490.1,1299.2 L1490.5,1301 L1491,1302.7 L1491.5,1304.5 L1492,1306.2 L1492.5,1308 L1493,1309.7 L1493.5,1311.5 L1493.9,1313.2 L1494.4,1315 L1494.9,1316.7 L1495.4,1318.5 L1495.9,1320.2 L1496.4,1322 L1496.9,1323.7 L1497.4,1325.4 L1497.8,1327.2 L1498.3,1328.9 L1498.8,1330.7 L1499.3,1332.4 L1499.8,1334.2 L1500.3,1335.9 L1500.8,1337.7 L1501.3,1339.4 L1501.8,1341.2 L1502.3,1342.9 L1502.7,1344.7 L1503.2,1346.4 L1503.7,1348.2 L1504.2,1349.9 L1504.7,1351.6 L1505.2,1353.4 L1505.7,1355.1 L1506.2,1356.9 L1506.7,1358.6 L1507.2,1360.4 L1507.7,1362.1 L1508.2,1363.9 L1508.7,1365.6 L1509.2,1367.4 L1509.7,1369.1 L1510.2,1370.9 L1510.7,1372.6 L1511.2,1374.3 L1511.7,1376.1 L1512.2,1377.8 L1512.7,1379.6 L1513.2,1381.3 L1513.7,1383.1 L1514.2,1384.8 L1514.7,1386.6 L1515.2,1388.3 L1515.7,1390.1 L1516.3,1391.8 L1516.8,1393.6 L1517.3,1395.3 L1517.8,1397.1 L1518.3,1398.8 L1518.8,1400.5 L1519.4,1402.3 L1519.9,1404 L1520.4,1405.8 L1521,1407.5 L1521.5,1409.2 L1522,1411 L1522.6,1412.7 L1523.1,1414.4 L1523.7,1416.2 L1524.2,1417.9 L1524.8,1419.6 L1525.4,1421.4 L1525.9,1423.1 L1526.5,1424.8 L1527.1,1426.5 L1527.7,1428.3 L1528.3,1430 L1528.9,1431.7 L1529.5,1433.4 L1530.1,1435.1 L1530.7,1436.8 L1531.3,1438.5 L1532,1440.2 L1532.6,1441.9 L1533.3,1443.6 L1533.9,1445.3 L1534.6,1447 L1535.2,1448.7 L1535.9,1450.4 L1536.6,1452.1 L1537.3,1453.7 L1538,1455.4 L1538.7,1457.1 L1539.4,1458.8 L1540.1,1460.4 L1540.8,1462.1 L1541.6,1463.7 L1542.3,1465.4 L1543.1,1467.1 L1543.9,1468.7 L1544.6,1470.3 L1545.4,1472 L1546.2,1473.6 L1547,1475.2 L1547.9,1476.9 L1548.7,1478.5 L1549.5,1480.1 L1550.4,1481.7 L1551.2,1483.3 L1552.1,1484.9 L1553,1486.5 L1553.9,1488.1 L1554.8,1489.7 L1555.7,1491.3 L1556.7,1492.9 L1557.6,1494.4 L1558.6,1496 L1559.6,1497.5 L1560.6,1499.1 L1561.6,1500.6 L1562.6,1502.1 L1563.6,1503.6 L1564.7,1505.1 L1565.8,1506.6 L1566.9,1508 L1568,1509.4 L1569.2,1510.8 L1570.4,1512.2 L1571.6,1513.5 L1572.8,1514.8 L1574.1,1516.1 L1575.4,1517.3 L1576.7,1518.5 L1578.1,1519.7 L1579.4,1520.8 L1580.9,1521.9 L1582.3,1522.9 L1583.8,1523.9 L1585.3,1524.9 L1586.9,1525.8 L1588.5,1526.7 L1590.1,1527.5 L1591.8,1528.3 L1593.4,1529.1 L1595.1,1529.8 L1596.8,1530.5 L1598.5,1531.1 L1600.3,1531.7 L1602,1532.3 L1603.8,1532.9 L1605.6,1533.4 L1607.4,1534 L1609.1,1534.5 L1610.9,1534.9 L1612.7,1535.4 L1614.5,1535.8 L1616.3,1536.2 L1618.1,1536.6 L1619.9,1537 L1621.7,1537.3 L1623.5,1537.7 L1625.3,1538 L1627.1,1538.3 L1628.9,1538.6 L1630.7,1538.8 L1632.5,1539.1 L1634.3,1539.3 L1636.1,1539.5 L1637.9,1539.7 L1639.7,1539.9 L1641.5,1540.1 L1643.3,1540.3 L1645.1,1540.4 L1646.9,1540.6 L1648.7,1540.7 L1650.5,1540.8 L1652.3,1540.9 L1654.1,1541 L1655.9,1541.1 L1657.7,1541.2 L1659.6,1541.3 L1661.4,1541.3 L1663.2,1541.4 L1665,1541.4 L1666.8,1541.5 L1668.6,1541.5 L1670.4,1541.5 L1672.3,1541.5 L1674.1,1541.5 L1675.9,1541.5 L1677.7,1541.5 L1679.5,1541.5 L1681.3,1541.5 L1683.2,1541.5 L1685,1541.5 L1686.8,1541.5 L1688.6,1541.5 L1690.4,1541.5 L1692.3,1541.5 L1694.1,1541.5 L1695.9,1541.5 L1697.7,1541.5 L1699.5,1541.5 L1701.3,1541.5 L1703.2,1541.5 L1705,1541.5 L1706.8,1541.5 L1708.6,1541.5 L1710.4,1541.5 L1712.3,1541.5 L1714.1,1541.5 L1715.9,1541.5 L1717.7,1541.5 L1719.5,1541.5 L1721.3,1541.5 L1723.2,1541.5 L1725,1541.5 L1726.8,1541.5 L1728.6,1541.5 L1730.4,1541.5 L1732.2,1541.5 L1734.1,1541.5 L1735.9,1541.5 L1737.7,1541.5 L1739.5,1541.5 L1741.3,1541.5 L1743.2,1541.5 L1745,1541.5 L1746.8,1541.5 L1748.6,1541.5 L1750.4,1541.5 L1752.2,1541.5 L1754.1,1541.5 L1755.9,1541.5 L1757.7,1541.5 L1759.5,1541.5 L1761.3,1541.5 L1763.1,1541.5 L1765,1541.5 L1766.8,1541.5 L1768.6,1541.5 L1770.4,1541.5 L1772.2,1541.5 L1774.1,1541.5 L1775.9,1541.5 L1777.7,1541.5 L1779.5,1541.5 L1781.3,1541.5 L1783.1,1541.5 L1785,1541.5 L1786.8,1541.5 L1788.6,1541.5 L1790.4,1541.5 L1792.2,1541.5 L1794,1541.5 L1795.9,1541.5 L1797.7,1541.5 L1799.5,1541.5 L1801.3,1541.5 L1803.1,1541.5 L1805,1541.5 L1806.8,1541.5 L1808.6,1541.5 L1810.4,1541.5 L1812.2,1541.5 L1814,1541.5 L1815.9,1541.5 L1817.7,1541.5 L1819.5,1541.5 L1821.3,1541.5 L1823.1,1541.5 L1824.9,1541.5 L1826.8,1541.5 L1828.6,1541.5 L1830.4,1541.5 L1832.2,1541.5 L1834,1541.5 L1835.9,1541.5 L1837.7,1541.5 L1839.5,1541.5 L1841.3,1541.5 L1843.1,1541.5 L1844.9,1541.5 L1846.8,1541.5 L1848.6,1541.5 L1850.4,1541.5 L1852.2,1541.5 L1854,1541.5 L1855.8,1541.5 L1857.7,1541.5 L1859.5,1541.5 L1861.3,1541.5 L1863.1,1541.5 L1864.9,1541.5 L1866.7,1541.5 L1868.6,1541.5 L1870.4,1541.5 L1872.2,1541.5 L1874,1541.5 L1875.8,1541.5 L1877.7,1541.5 L1879.5,1541.5 L1881.3,1541.5 L1883.1,1541.5 L1884.9,1541.5 L1886.7,1541.5 L1888.6,1541.5 L1890.4,1541.5 L1892.2,1541.5 L1894,1541.5 L1895.8,1541.5 L1897.6,1541.5 L1899.5,1541.5 L1901.3,1541.5 L1903.1,1541.5 L1904.9,1541.5 L1906.7,1541.5 L1908.6,1541.5 L1910.4,1541.5 L1912.2,1541.5 L1914,1541.5 L1915.8,1541.5 L1917.6,1541.5 L1919.5,1541.5 L1921.3,1541.5 L1923.1,1541.5 L1924.9,1541.5 L1926.7,1541.5 L1928.5,1541.5 L1930.4,1541.5 L1932.2,1541.5" fill="none" stroke="#008080" stroke-width="7" stroke-linecap="round" stroke-linejoin="round"/>
<text transform="translate(1081,1206.5) rotate(-90)" text-anchor="middle" class="t">Prob. density (arb. u.)</text>
<text x="1185.6" y="938" class="tag">d)</text>
<text x="1350.6" y="974.3" class="it">c</text>
<text x="1397" y="1174.5" class="it">g</text>
<text x="1511" y="1274.9" class="it">d</text>
<text x="1639.4" y="1396.8" class="it">e</text>
<text x="1620.2" y="1505.6" class="it">f</text>
<text x="498.4" y="1737" class="xl"><tspan font-style="italic">k</tspan> (nm<tspan dy="-29.2" font-size="39.7">-1</tspan><tspan dy="29.2">)</tspan></text>
<text x="1466.8" y="1736.2" class="xl"><tspan font-style="italic">y</tspan> (nm)</text>
</svg>
</body></html>
